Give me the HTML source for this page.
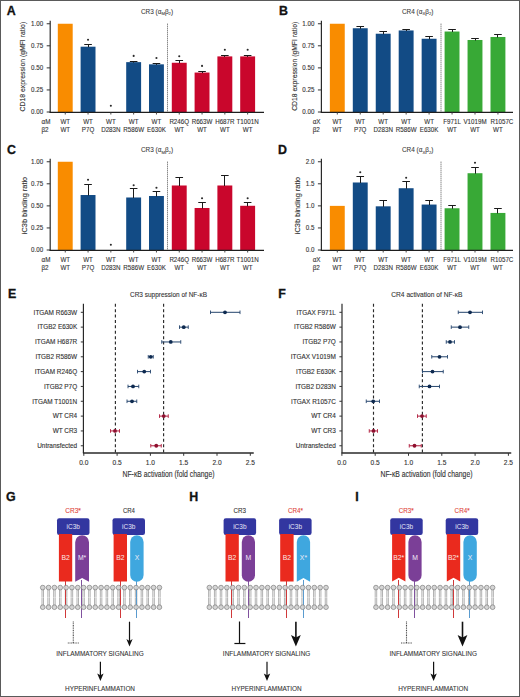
<!DOCTYPE html>
<html><head><meta charset="utf-8"><style>
html,body{margin:0;padding:0;background:#fff;}
#fig{position:relative;width:520px;height:697px;overflow:hidden;background:#fff;}
svg{display:block;font-family:"Liberation Sans", sans-serif;}
</style></head><body><div id="fig">
<svg width="520" height="697" viewBox="0 0 520 697">
<rect x="0" y="0" width="520" height="697" fill="#fff"/>
<rect x="57.80" y="23.75" width="14.90" height="88.25" fill="#F98C00"/>
<rect x="80.60" y="46.70" width="14.90" height="65.30" fill="#124B85"/>
<line x1="88.50" y1="44.93" x2="88.50" y2="47.20" stroke="#1a1a1a" stroke-width="1.0"/>
<line x1="84.25" y1="44.50" x2="91.85" y2="44.50" stroke="#1a1a1a" stroke-width="1.0"/>
<circle cx="88.05" cy="39.80" r="1.05" fill="#2a2a2a"/>
<circle cx="110.85" cy="105.80" r="1.05" fill="#2a2a2a"/>
<rect x="126.20" y="62.14" width="14.90" height="49.86" fill="#124B85"/>
<line x1="133.50" y1="61.26" x2="133.50" y2="62.64" stroke="#1a1a1a" stroke-width="1.0"/>
<line x1="129.85" y1="61.50" x2="137.45" y2="61.50" stroke="#1a1a1a" stroke-width="1.0"/>
<circle cx="133.65" cy="55.90" r="1.05" fill="#2a2a2a"/>
<rect x="149.00" y="64.34" width="14.90" height="47.66" fill="#124B85"/>
<line x1="156.50" y1="63.46" x2="156.50" y2="64.84" stroke="#1a1a1a" stroke-width="1.0"/>
<line x1="152.65" y1="63.50" x2="160.25" y2="63.50" stroke="#1a1a1a" stroke-width="1.0"/>
<circle cx="156.45" cy="58.00" r="1.05" fill="#2a2a2a"/>
<rect x="171.80" y="62.76" width="14.90" height="49.24" fill="#C9062C"/>
<line x1="179.50" y1="60.46" x2="179.50" y2="63.26" stroke="#1a1a1a" stroke-width="1.0"/>
<line x1="175.45" y1="60.50" x2="183.05" y2="60.50" stroke="#1a1a1a" stroke-width="1.0"/>
<circle cx="179.25" cy="56.20" r="1.05" fill="#2a2a2a"/>
<rect x="194.60" y="72.55" width="14.90" height="39.45" fill="#C9062C"/>
<line x1="202.50" y1="71.67" x2="202.50" y2="73.05" stroke="#1a1a1a" stroke-width="1.0"/>
<line x1="198.25" y1="71.50" x2="205.85" y2="71.50" stroke="#1a1a1a" stroke-width="1.0"/>
<circle cx="202.05" cy="65.90" r="1.05" fill="#2a2a2a"/>
<rect x="217.40" y="56.40" width="14.90" height="55.60" fill="#C9062C"/>
<line x1="224.50" y1="55.08" x2="224.50" y2="56.90" stroke="#1a1a1a" stroke-width="1.0"/>
<line x1="221.05" y1="55.50" x2="228.65" y2="55.50" stroke="#1a1a1a" stroke-width="1.0"/>
<circle cx="224.85" cy="49.80" r="1.05" fill="#2a2a2a"/>
<rect x="240.20" y="56.40" width="14.90" height="55.60" fill="#C9062C"/>
<line x1="247.50" y1="55.08" x2="247.50" y2="56.90" stroke="#1a1a1a" stroke-width="1.0"/>
<line x1="243.85" y1="55.50" x2="251.45" y2="55.50" stroke="#1a1a1a" stroke-width="1.0"/>
<circle cx="247.65" cy="49.80" r="1.05" fill="#2a2a2a"/>
<line x1="50.20" y1="20.70" x2="50.20" y2="112.90" stroke="#2a2a2a" stroke-width="1.2"/>
<line x1="49.60" y1="112.30" x2="264.00" y2="112.30" stroke="#1e1e1e" stroke-width="1.25"/>
<line x1="46.70" y1="112.00" x2="50.20" y2="112.00" stroke="#333333" stroke-width="1"/>
<text x="43.20" y="114.20" font-size="6.4" text-anchor="end" fill="#333333" font-weight="normal" textLength="12.08" lengthAdjust="spacingAndGlyphs" stroke="#333333" stroke-width="0.12">0.00</text>
<line x1="46.70" y1="89.94" x2="50.20" y2="89.94" stroke="#333333" stroke-width="1"/>
<text x="43.20" y="92.14" font-size="6.4" text-anchor="end" fill="#333333" font-weight="normal" textLength="12.08" lengthAdjust="spacingAndGlyphs" stroke="#333333" stroke-width="0.12">0.25</text>
<line x1="46.70" y1="67.88" x2="50.20" y2="67.88" stroke="#333333" stroke-width="1"/>
<text x="43.20" y="70.08" font-size="6.4" text-anchor="end" fill="#333333" font-weight="normal" textLength="12.08" lengthAdjust="spacingAndGlyphs" stroke="#333333" stroke-width="0.12">0.50</text>
<line x1="46.70" y1="45.81" x2="50.20" y2="45.81" stroke="#333333" stroke-width="1"/>
<text x="43.20" y="48.01" font-size="6.4" text-anchor="end" fill="#333333" font-weight="normal" textLength="12.08" lengthAdjust="spacingAndGlyphs" stroke="#333333" stroke-width="0.12">0.75</text>
<line x1="46.70" y1="23.75" x2="50.20" y2="23.75" stroke="#333333" stroke-width="1"/>
<text x="43.20" y="25.95" font-size="6.4" text-anchor="end" fill="#333333" font-weight="normal" textLength="12.08" lengthAdjust="spacingAndGlyphs" stroke="#333333" stroke-width="0.12">1.00</text>
<line x1="65.25" y1="112.00" x2="65.25" y2="114.50" stroke="#333333" stroke-width="0.9"/>
<line x1="88.05" y1="112.00" x2="88.05" y2="114.50" stroke="#333333" stroke-width="0.9"/>
<line x1="110.85" y1="112.00" x2="110.85" y2="114.50" stroke="#333333" stroke-width="0.9"/>
<line x1="133.65" y1="112.00" x2="133.65" y2="114.50" stroke="#333333" stroke-width="0.9"/>
<line x1="156.45" y1="112.00" x2="156.45" y2="114.50" stroke="#333333" stroke-width="0.9"/>
<line x1="179.25" y1="112.00" x2="179.25" y2="114.50" stroke="#333333" stroke-width="0.9"/>
<line x1="202.05" y1="112.00" x2="202.05" y2="114.50" stroke="#333333" stroke-width="0.9"/>
<line x1="224.85" y1="112.00" x2="224.85" y2="114.50" stroke="#333333" stroke-width="0.9"/>
<line x1="247.65" y1="112.00" x2="247.65" y2="114.50" stroke="#333333" stroke-width="0.9"/>
<line x1="167.50" y1="23.70" x2="167.50" y2="112.00" stroke="#555" stroke-width="1" stroke-dasharray="1 1"/>
<text x="41.50" y="123.75" font-size="7.4" text-anchor="start" fill="#333333" font-weight="normal" textLength="8.89" lengthAdjust="spacingAndGlyphs" stroke="#333333" stroke-width="0.12">αM</text>
<text x="41.50" y="131.95" font-size="7.4" text-anchor="start" fill="#333333" font-weight="normal" textLength="7.13" lengthAdjust="spacingAndGlyphs" stroke="#333333" stroke-width="0.12">β2</text>
<text x="65.25" y="123.75" font-size="7.4" text-anchor="middle" fill="#333333" font-weight="normal" textLength="9.69" lengthAdjust="spacingAndGlyphs" stroke="#333333" stroke-width="0.12">WT</text>
<text x="65.25" y="131.95" font-size="7.4" text-anchor="middle" fill="#333333" font-weight="normal" textLength="9.69" lengthAdjust="spacingAndGlyphs" stroke="#333333" stroke-width="0.12">WT</text>
<text x="88.05" y="123.75" font-size="7.4" text-anchor="middle" fill="#333333" font-weight="normal" textLength="9.69" lengthAdjust="spacingAndGlyphs" stroke="#333333" stroke-width="0.12">WT</text>
<text x="88.05" y="131.95" font-size="7.4" text-anchor="middle" fill="#333333" font-weight="normal" textLength="12.47" lengthAdjust="spacingAndGlyphs" stroke="#333333" stroke-width="0.12">P7Q</text>
<text x="110.85" y="123.75" font-size="7.4" text-anchor="middle" fill="#333333" font-weight="normal" textLength="9.69" lengthAdjust="spacingAndGlyphs" stroke="#333333" stroke-width="0.12">WT</text>
<text x="110.85" y="131.95" font-size="7.4" text-anchor="middle" fill="#333333" font-weight="normal" textLength="19.39" lengthAdjust="spacingAndGlyphs" stroke="#333333" stroke-width="0.12">D283N</text>
<text x="133.65" y="123.75" font-size="7.4" text-anchor="middle" fill="#333333" font-weight="normal" textLength="9.69" lengthAdjust="spacingAndGlyphs" stroke="#333333" stroke-width="0.12">WT</text>
<text x="133.65" y="131.95" font-size="7.4" text-anchor="middle" fill="#333333" font-weight="normal" textLength="20.77" lengthAdjust="spacingAndGlyphs" stroke="#333333" stroke-width="0.12">R586W</text>
<text x="156.45" y="123.75" font-size="7.4" text-anchor="middle" fill="#333333" font-weight="normal" textLength="9.69" lengthAdjust="spacingAndGlyphs" stroke="#333333" stroke-width="0.12">WT</text>
<text x="156.45" y="131.95" font-size="7.4" text-anchor="middle" fill="#333333" font-weight="normal" textLength="18.70" lengthAdjust="spacingAndGlyphs" stroke="#333333" stroke-width="0.12">E630K</text>
<text x="179.25" y="123.75" font-size="7.4" text-anchor="middle" fill="#333333" font-weight="normal" textLength="19.74" lengthAdjust="spacingAndGlyphs" stroke="#333333" stroke-width="0.12">R246Q</text>
<text x="179.25" y="131.95" font-size="7.4" text-anchor="middle" fill="#333333" font-weight="normal" textLength="9.69" lengthAdjust="spacingAndGlyphs" stroke="#333333" stroke-width="0.12">WT</text>
<text x="202.05" y="123.75" font-size="7.4" text-anchor="middle" fill="#333333" font-weight="normal" textLength="20.77" lengthAdjust="spacingAndGlyphs" stroke="#333333" stroke-width="0.12">R663W</text>
<text x="202.05" y="131.95" font-size="7.4" text-anchor="middle" fill="#333333" font-weight="normal" textLength="9.69" lengthAdjust="spacingAndGlyphs" stroke="#333333" stroke-width="0.12">WT</text>
<text x="224.85" y="123.75" font-size="7.4" text-anchor="middle" fill="#333333" font-weight="normal" textLength="19.39" lengthAdjust="spacingAndGlyphs" stroke="#333333" stroke-width="0.12">H687R</text>
<text x="224.85" y="131.95" font-size="7.4" text-anchor="middle" fill="#333333" font-weight="normal" textLength="9.69" lengthAdjust="spacingAndGlyphs" stroke="#333333" stroke-width="0.12">WT</text>
<text x="247.65" y="123.75" font-size="7.4" text-anchor="middle" fill="#333333" font-weight="normal" textLength="22.16" lengthAdjust="spacingAndGlyphs" stroke="#333333" stroke-width="0.12">T1001N</text>
<text x="247.65" y="131.95" font-size="7.4" text-anchor="middle" fill="#333333" font-weight="normal" textLength="9.69" lengthAdjust="spacingAndGlyphs" stroke="#333333" stroke-width="0.12">WT</text>
<text x="141.0" y="13.6" font-size="6.4" fill="#3a3a3a" stroke="#3a3a3a" stroke-width="0.08">CR3 (α<tspan font-size="4.2" dy="1.5">M</tspan><tspan dy="-1.5">β</tspan><tspan font-size="4.2" dy="1.5">2</tspan><tspan dy="-1.5">)</tspan></text>
<text transform="translate(25.10,66.60) rotate(-90)" x="0" y="0" font-size="7.5" text-anchor="middle" fill="#333333" stroke="#333333" stroke-width="0.12" textLength="89.6" lengthAdjust="spacingAndGlyphs">CD18 expression (gMFI ratio)</text>
<rect x="329.85" y="23.75" width="14.90" height="88.25" fill="#F98C00"/>
<rect x="352.80" y="28.25" width="14.90" height="83.75" fill="#124B85"/>
<line x1="360.50" y1="26.40" x2="360.50" y2="28.75" stroke="#1a1a1a" stroke-width="1.0"/>
<line x1="356.45" y1="26.50" x2="364.05" y2="26.50" stroke="#1a1a1a" stroke-width="1.0"/>
<rect x="375.75" y="33.72" width="14.90" height="78.28" fill="#124B85"/>
<line x1="383.50" y1="31.96" x2="383.50" y2="34.22" stroke="#1a1a1a" stroke-width="1.0"/>
<line x1="379.40" y1="31.50" x2="387.00" y2="31.50" stroke="#1a1a1a" stroke-width="1.0"/>
<rect x="398.70" y="30.46" width="14.90" height="81.54" fill="#124B85"/>
<line x1="406.50" y1="29.05" x2="406.50" y2="30.96" stroke="#1a1a1a" stroke-width="1.0"/>
<line x1="402.35" y1="29.50" x2="409.95" y2="29.50" stroke="#1a1a1a" stroke-width="1.0"/>
<rect x="421.65" y="38.75" width="14.90" height="73.25" fill="#124B85"/>
<line x1="429.50" y1="36.46" x2="429.50" y2="39.25" stroke="#1a1a1a" stroke-width="1.0"/>
<line x1="425.30" y1="36.50" x2="432.90" y2="36.50" stroke="#1a1a1a" stroke-width="1.0"/>
<rect x="444.60" y="31.52" width="14.90" height="80.48" fill="#38A936"/>
<line x1="452.50" y1="29.93" x2="452.50" y2="32.02" stroke="#1a1a1a" stroke-width="1.0"/>
<line x1="448.25" y1="29.50" x2="455.85" y2="29.50" stroke="#1a1a1a" stroke-width="1.0"/>
<rect x="467.55" y="39.99" width="14.90" height="72.01" fill="#38A936"/>
<line x1="475.50" y1="38.75" x2="475.50" y2="40.49" stroke="#1a1a1a" stroke-width="1.0"/>
<line x1="471.20" y1="38.50" x2="478.80" y2="38.50" stroke="#1a1a1a" stroke-width="1.0"/>
<rect x="490.50" y="36.99" width="14.90" height="75.01" fill="#38A936"/>
<line x1="497.50" y1="34.60" x2="497.50" y2="37.49" stroke="#1a1a1a" stroke-width="1.0"/>
<line x1="494.15" y1="34.50" x2="501.75" y2="34.50" stroke="#1a1a1a" stroke-width="1.0"/>
<line x1="321.40" y1="20.70" x2="321.40" y2="112.90" stroke="#2a2a2a" stroke-width="1.2"/>
<line x1="320.80" y1="112.30" x2="513.00" y2="112.30" stroke="#1e1e1e" stroke-width="1.25"/>
<line x1="317.90" y1="112.00" x2="321.40" y2="112.00" stroke="#333333" stroke-width="1"/>
<text x="314.40" y="114.20" font-size="6.4" text-anchor="end" fill="#333333" font-weight="normal" textLength="12.08" lengthAdjust="spacingAndGlyphs" stroke="#333333" stroke-width="0.12">0.00</text>
<line x1="317.90" y1="89.94" x2="321.40" y2="89.94" stroke="#333333" stroke-width="1"/>
<text x="314.40" y="92.14" font-size="6.4" text-anchor="end" fill="#333333" font-weight="normal" textLength="12.08" lengthAdjust="spacingAndGlyphs" stroke="#333333" stroke-width="0.12">0.25</text>
<line x1="317.90" y1="67.88" x2="321.40" y2="67.88" stroke="#333333" stroke-width="1"/>
<text x="314.40" y="70.08" font-size="6.4" text-anchor="end" fill="#333333" font-weight="normal" textLength="12.08" lengthAdjust="spacingAndGlyphs" stroke="#333333" stroke-width="0.12">0.50</text>
<line x1="317.90" y1="45.81" x2="321.40" y2="45.81" stroke="#333333" stroke-width="1"/>
<text x="314.40" y="48.01" font-size="6.4" text-anchor="end" fill="#333333" font-weight="normal" textLength="12.08" lengthAdjust="spacingAndGlyphs" stroke="#333333" stroke-width="0.12">0.75</text>
<line x1="317.90" y1="23.75" x2="321.40" y2="23.75" stroke="#333333" stroke-width="1"/>
<text x="314.40" y="25.95" font-size="6.4" text-anchor="end" fill="#333333" font-weight="normal" textLength="12.08" lengthAdjust="spacingAndGlyphs" stroke="#333333" stroke-width="0.12">1.00</text>
<line x1="337.30" y1="112.00" x2="337.30" y2="114.50" stroke="#333333" stroke-width="0.9"/>
<line x1="360.25" y1="112.00" x2="360.25" y2="114.50" stroke="#333333" stroke-width="0.9"/>
<line x1="383.20" y1="112.00" x2="383.20" y2="114.50" stroke="#333333" stroke-width="0.9"/>
<line x1="406.15" y1="112.00" x2="406.15" y2="114.50" stroke="#333333" stroke-width="0.9"/>
<line x1="429.10" y1="112.00" x2="429.10" y2="114.50" stroke="#333333" stroke-width="0.9"/>
<line x1="452.05" y1="112.00" x2="452.05" y2="114.50" stroke="#333333" stroke-width="0.9"/>
<line x1="475.00" y1="112.00" x2="475.00" y2="114.50" stroke="#333333" stroke-width="0.9"/>
<line x1="497.95" y1="112.00" x2="497.95" y2="114.50" stroke="#333333" stroke-width="0.9"/>
<line x1="441.00" y1="23.70" x2="441.00" y2="112.00" stroke="#555" stroke-width="1" stroke-dasharray="1 1"/>
<text x="312.70" y="123.75" font-size="7.4" text-anchor="start" fill="#333333" font-weight="normal" textLength="7.84" lengthAdjust="spacingAndGlyphs" stroke="#333333" stroke-width="0.12">αX</text>
<text x="312.70" y="131.95" font-size="7.4" text-anchor="start" fill="#333333" font-weight="normal" textLength="7.13" lengthAdjust="spacingAndGlyphs" stroke="#333333" stroke-width="0.12">β2</text>
<text x="337.30" y="123.75" font-size="7.4" text-anchor="middle" fill="#333333" font-weight="normal" textLength="9.69" lengthAdjust="spacingAndGlyphs" stroke="#333333" stroke-width="0.12">WT</text>
<text x="337.30" y="131.95" font-size="7.4" text-anchor="middle" fill="#333333" font-weight="normal" textLength="9.69" lengthAdjust="spacingAndGlyphs" stroke="#333333" stroke-width="0.12">WT</text>
<text x="360.25" y="123.75" font-size="7.4" text-anchor="middle" fill="#333333" font-weight="normal" textLength="9.69" lengthAdjust="spacingAndGlyphs" stroke="#333333" stroke-width="0.12">WT</text>
<text x="360.25" y="131.95" font-size="7.4" text-anchor="middle" fill="#333333" font-weight="normal" textLength="12.47" lengthAdjust="spacingAndGlyphs" stroke="#333333" stroke-width="0.12">P7Q</text>
<text x="383.20" y="123.75" font-size="7.4" text-anchor="middle" fill="#333333" font-weight="normal" textLength="9.69" lengthAdjust="spacingAndGlyphs" stroke="#333333" stroke-width="0.12">WT</text>
<text x="383.20" y="131.95" font-size="7.4" text-anchor="middle" fill="#333333" font-weight="normal" textLength="19.39" lengthAdjust="spacingAndGlyphs" stroke="#333333" stroke-width="0.12">D283N</text>
<text x="406.15" y="123.75" font-size="7.4" text-anchor="middle" fill="#333333" font-weight="normal" textLength="9.69" lengthAdjust="spacingAndGlyphs" stroke="#333333" stroke-width="0.12">WT</text>
<text x="406.15" y="131.95" font-size="7.4" text-anchor="middle" fill="#333333" font-weight="normal" textLength="20.77" lengthAdjust="spacingAndGlyphs" stroke="#333333" stroke-width="0.12">R586W</text>
<text x="429.10" y="123.75" font-size="7.4" text-anchor="middle" fill="#333333" font-weight="normal" textLength="9.69" lengthAdjust="spacingAndGlyphs" stroke="#333333" stroke-width="0.12">WT</text>
<text x="429.10" y="131.95" font-size="7.4" text-anchor="middle" fill="#333333" font-weight="normal" textLength="18.70" lengthAdjust="spacingAndGlyphs" stroke="#333333" stroke-width="0.12">E630K</text>
<text x="452.05" y="123.75" font-size="7.4" text-anchor="middle" fill="#333333" font-weight="normal" textLength="17.66" lengthAdjust="spacingAndGlyphs" stroke="#333333" stroke-width="0.12">F971L</text>
<text x="452.05" y="131.95" font-size="7.4" text-anchor="middle" fill="#333333" font-weight="normal" textLength="9.69" lengthAdjust="spacingAndGlyphs" stroke="#333333" stroke-width="0.12">WT</text>
<text x="475.00" y="123.75" font-size="7.4" text-anchor="middle" fill="#333333" font-weight="normal" textLength="23.20" lengthAdjust="spacingAndGlyphs" stroke="#333333" stroke-width="0.12">V1019M</text>
<text x="475.00" y="131.95" font-size="7.4" text-anchor="middle" fill="#333333" font-weight="normal" textLength="9.69" lengthAdjust="spacingAndGlyphs" stroke="#333333" stroke-width="0.12">WT</text>
<text x="501.95" y="123.75" font-size="7.4" text-anchor="middle" fill="#333333" font-weight="normal" textLength="22.86" lengthAdjust="spacingAndGlyphs" stroke="#333333" stroke-width="0.12">R1057C</text>
<text x="497.95" y="131.95" font-size="7.4" text-anchor="middle" fill="#333333" font-weight="normal" textLength="9.69" lengthAdjust="spacingAndGlyphs" stroke="#333333" stroke-width="0.12">WT</text>
<text x="402.0" y="13.6" font-size="6.4" fill="#3a3a3a" stroke="#3a3a3a" stroke-width="0.08">CR4 (α<tspan font-size="4.2" dy="1.5">X</tspan><tspan dy="-1.5">β</tspan><tspan font-size="4.2" dy="1.5">2</tspan><tspan dy="-1.5">)</tspan></text>
<text transform="translate(296.80,66.30) rotate(-90)" x="0" y="0" font-size="7.5" text-anchor="middle" fill="#333333" stroke="#333333" stroke-width="0.12" textLength="89.0" lengthAdjust="spacingAndGlyphs">CD18 expression (gMFI ratio)</text>
<rect x="57.80" y="161.75" width="14.90" height="88.25" fill="#F98C00"/>
<rect x="80.60" y="195.02" width="14.90" height="54.98" fill="#124B85"/>
<line x1="88.50" y1="184.52" x2="88.50" y2="195.52" stroke="#1a1a1a" stroke-width="1.0"/>
<line x1="84.25" y1="184.50" x2="91.85" y2="184.50" stroke="#1a1a1a" stroke-width="1.0"/>
<circle cx="88.05" cy="179.80" r="1.05" fill="#2a2a2a"/>
<circle cx="110.85" cy="244.80" r="1.05" fill="#2a2a2a"/>
<rect x="126.20" y="197.49" width="14.90" height="52.51" fill="#124B85"/>
<line x1="133.50" y1="188.22" x2="133.50" y2="197.99" stroke="#1a1a1a" stroke-width="1.0"/>
<line x1="129.85" y1="188.50" x2="137.45" y2="188.50" stroke="#1a1a1a" stroke-width="1.0"/>
<circle cx="133.65" cy="185.30" r="1.05" fill="#2a2a2a"/>
<rect x="149.00" y="195.99" width="14.90" height="54.01" fill="#124B85"/>
<line x1="156.50" y1="191.75" x2="156.50" y2="196.49" stroke="#1a1a1a" stroke-width="1.0"/>
<line x1="152.65" y1="191.50" x2="160.25" y2="191.50" stroke="#1a1a1a" stroke-width="1.0"/>
<circle cx="156.45" cy="187.80" r="1.05" fill="#2a2a2a"/>
<rect x="171.80" y="185.49" width="14.90" height="64.51" fill="#C9062C"/>
<line x1="179.50" y1="177.63" x2="179.50" y2="185.99" stroke="#1a1a1a" stroke-width="1.0"/>
<line x1="175.45" y1="177.50" x2="183.05" y2="177.50" stroke="#1a1a1a" stroke-width="1.0"/>
<rect x="194.60" y="207.99" width="14.90" height="42.01" fill="#C9062C"/>
<line x1="202.50" y1="202.52" x2="202.50" y2="208.49" stroke="#1a1a1a" stroke-width="1.0"/>
<line x1="198.25" y1="202.50" x2="205.85" y2="202.50" stroke="#1a1a1a" stroke-width="1.0"/>
<circle cx="202.05" cy="198.30" r="1.05" fill="#2a2a2a"/>
<rect x="217.40" y="185.49" width="14.90" height="64.51" fill="#C9062C"/>
<line x1="224.50" y1="175.25" x2="224.50" y2="185.99" stroke="#1a1a1a" stroke-width="1.0"/>
<line x1="221.05" y1="175.50" x2="228.65" y2="175.50" stroke="#1a1a1a" stroke-width="1.0"/>
<rect x="240.20" y="205.79" width="14.90" height="44.21" fill="#C9062C"/>
<line x1="247.50" y1="202.26" x2="247.50" y2="206.29" stroke="#1a1a1a" stroke-width="1.0"/>
<line x1="243.85" y1="202.50" x2="251.45" y2="202.50" stroke="#1a1a1a" stroke-width="1.0"/>
<circle cx="247.65" cy="198.30" r="1.05" fill="#2a2a2a"/>
<line x1="50.20" y1="158.70" x2="50.20" y2="250.90" stroke="#2a2a2a" stroke-width="1.2"/>
<line x1="49.60" y1="250.30" x2="264.00" y2="250.30" stroke="#1e1e1e" stroke-width="1.25"/>
<line x1="46.70" y1="250.00" x2="50.20" y2="250.00" stroke="#333333" stroke-width="1"/>
<text x="43.20" y="252.20" font-size="6.4" text-anchor="end" fill="#333333" font-weight="normal" textLength="12.08" lengthAdjust="spacingAndGlyphs" stroke="#333333" stroke-width="0.12">0.00</text>
<line x1="46.70" y1="227.94" x2="50.20" y2="227.94" stroke="#333333" stroke-width="1"/>
<text x="43.20" y="230.14" font-size="6.4" text-anchor="end" fill="#333333" font-weight="normal" textLength="12.08" lengthAdjust="spacingAndGlyphs" stroke="#333333" stroke-width="0.12">0.25</text>
<line x1="46.70" y1="205.88" x2="50.20" y2="205.88" stroke="#333333" stroke-width="1"/>
<text x="43.20" y="208.08" font-size="6.4" text-anchor="end" fill="#333333" font-weight="normal" textLength="12.08" lengthAdjust="spacingAndGlyphs" stroke="#333333" stroke-width="0.12">0.50</text>
<line x1="46.70" y1="183.81" x2="50.20" y2="183.81" stroke="#333333" stroke-width="1"/>
<text x="43.20" y="186.01" font-size="6.4" text-anchor="end" fill="#333333" font-weight="normal" textLength="12.08" lengthAdjust="spacingAndGlyphs" stroke="#333333" stroke-width="0.12">0.75</text>
<line x1="46.70" y1="161.75" x2="50.20" y2="161.75" stroke="#333333" stroke-width="1"/>
<text x="43.20" y="163.95" font-size="6.4" text-anchor="end" fill="#333333" font-weight="normal" textLength="12.08" lengthAdjust="spacingAndGlyphs" stroke="#333333" stroke-width="0.12">1.00</text>
<line x1="65.25" y1="250.00" x2="65.25" y2="252.50" stroke="#333333" stroke-width="0.9"/>
<line x1="88.05" y1="250.00" x2="88.05" y2="252.50" stroke="#333333" stroke-width="0.9"/>
<line x1="110.85" y1="250.00" x2="110.85" y2="252.50" stroke="#333333" stroke-width="0.9"/>
<line x1="133.65" y1="250.00" x2="133.65" y2="252.50" stroke="#333333" stroke-width="0.9"/>
<line x1="156.45" y1="250.00" x2="156.45" y2="252.50" stroke="#333333" stroke-width="0.9"/>
<line x1="179.25" y1="250.00" x2="179.25" y2="252.50" stroke="#333333" stroke-width="0.9"/>
<line x1="202.05" y1="250.00" x2="202.05" y2="252.50" stroke="#333333" stroke-width="0.9"/>
<line x1="224.85" y1="250.00" x2="224.85" y2="252.50" stroke="#333333" stroke-width="0.9"/>
<line x1="247.65" y1="250.00" x2="247.65" y2="252.50" stroke="#333333" stroke-width="0.9"/>
<line x1="167.50" y1="161.70" x2="167.50" y2="250.00" stroke="#555" stroke-width="1" stroke-dasharray="1 1"/>
<text x="41.50" y="261.75" font-size="7.4" text-anchor="start" fill="#333333" font-weight="normal" textLength="8.89" lengthAdjust="spacingAndGlyphs" stroke="#333333" stroke-width="0.12">αM</text>
<text x="41.50" y="269.95" font-size="7.4" text-anchor="start" fill="#333333" font-weight="normal" textLength="7.13" lengthAdjust="spacingAndGlyphs" stroke="#333333" stroke-width="0.12">β2</text>
<text x="65.25" y="261.75" font-size="7.4" text-anchor="middle" fill="#333333" font-weight="normal" textLength="9.69" lengthAdjust="spacingAndGlyphs" stroke="#333333" stroke-width="0.12">WT</text>
<text x="65.25" y="269.95" font-size="7.4" text-anchor="middle" fill="#333333" font-weight="normal" textLength="9.69" lengthAdjust="spacingAndGlyphs" stroke="#333333" stroke-width="0.12">WT</text>
<text x="88.05" y="261.75" font-size="7.4" text-anchor="middle" fill="#333333" font-weight="normal" textLength="9.69" lengthAdjust="spacingAndGlyphs" stroke="#333333" stroke-width="0.12">WT</text>
<text x="88.05" y="269.95" font-size="7.4" text-anchor="middle" fill="#333333" font-weight="normal" textLength="12.47" lengthAdjust="spacingAndGlyphs" stroke="#333333" stroke-width="0.12">P7Q</text>
<text x="110.85" y="261.75" font-size="7.4" text-anchor="middle" fill="#333333" font-weight="normal" textLength="9.69" lengthAdjust="spacingAndGlyphs" stroke="#333333" stroke-width="0.12">WT</text>
<text x="110.85" y="269.95" font-size="7.4" text-anchor="middle" fill="#333333" font-weight="normal" textLength="19.39" lengthAdjust="spacingAndGlyphs" stroke="#333333" stroke-width="0.12">D283N</text>
<text x="133.65" y="261.75" font-size="7.4" text-anchor="middle" fill="#333333" font-weight="normal" textLength="9.69" lengthAdjust="spacingAndGlyphs" stroke="#333333" stroke-width="0.12">WT</text>
<text x="133.65" y="269.95" font-size="7.4" text-anchor="middle" fill="#333333" font-weight="normal" textLength="20.77" lengthAdjust="spacingAndGlyphs" stroke="#333333" stroke-width="0.12">R586W</text>
<text x="156.45" y="261.75" font-size="7.4" text-anchor="middle" fill="#333333" font-weight="normal" textLength="9.69" lengthAdjust="spacingAndGlyphs" stroke="#333333" stroke-width="0.12">WT</text>
<text x="156.45" y="269.95" font-size="7.4" text-anchor="middle" fill="#333333" font-weight="normal" textLength="18.70" lengthAdjust="spacingAndGlyphs" stroke="#333333" stroke-width="0.12">E630K</text>
<text x="179.25" y="261.75" font-size="7.4" text-anchor="middle" fill="#333333" font-weight="normal" textLength="19.74" lengthAdjust="spacingAndGlyphs" stroke="#333333" stroke-width="0.12">R246Q</text>
<text x="179.25" y="269.95" font-size="7.4" text-anchor="middle" fill="#333333" font-weight="normal" textLength="9.69" lengthAdjust="spacingAndGlyphs" stroke="#333333" stroke-width="0.12">WT</text>
<text x="202.05" y="261.75" font-size="7.4" text-anchor="middle" fill="#333333" font-weight="normal" textLength="20.77" lengthAdjust="spacingAndGlyphs" stroke="#333333" stroke-width="0.12">R663W</text>
<text x="202.05" y="269.95" font-size="7.4" text-anchor="middle" fill="#333333" font-weight="normal" textLength="9.69" lengthAdjust="spacingAndGlyphs" stroke="#333333" stroke-width="0.12">WT</text>
<text x="224.85" y="261.75" font-size="7.4" text-anchor="middle" fill="#333333" font-weight="normal" textLength="19.39" lengthAdjust="spacingAndGlyphs" stroke="#333333" stroke-width="0.12">H687R</text>
<text x="224.85" y="269.95" font-size="7.4" text-anchor="middle" fill="#333333" font-weight="normal" textLength="9.69" lengthAdjust="spacingAndGlyphs" stroke="#333333" stroke-width="0.12">WT</text>
<text x="247.65" y="261.75" font-size="7.4" text-anchor="middle" fill="#333333" font-weight="normal" textLength="22.16" lengthAdjust="spacingAndGlyphs" stroke="#333333" stroke-width="0.12">T1001N</text>
<text x="247.65" y="269.95" font-size="7.4" text-anchor="middle" fill="#333333" font-weight="normal" textLength="9.69" lengthAdjust="spacingAndGlyphs" stroke="#333333" stroke-width="0.12">WT</text>
<text x="141.0" y="152.4" font-size="6.4" fill="#3a3a3a" stroke="#3a3a3a" stroke-width="0.08">CR3 (α<tspan font-size="4.2" dy="1.5">M</tspan><tspan dy="-1.5">β</tspan><tspan font-size="4.2" dy="1.5">2</tspan><tspan dy="-1.5">)</tspan></text>
<text transform="translate(26.70,205.50) rotate(-90)" x="0" y="0" font-size="7.5" text-anchor="middle" fill="#333333" stroke="#333333" stroke-width="0.12" textLength="57.3" lengthAdjust="spacingAndGlyphs">iC3b binding ratio</text>
<rect x="329.85" y="205.88" width="14.90" height="44.12" fill="#F98C00"/>
<rect x="352.80" y="182.49" width="14.90" height="67.51" fill="#124B85"/>
<line x1="360.50" y1="176.75" x2="360.50" y2="182.99" stroke="#1a1a1a" stroke-width="1.0"/>
<line x1="356.45" y1="176.50" x2="364.05" y2="176.50" stroke="#1a1a1a" stroke-width="1.0"/>
<circle cx="360.25" cy="172.30" r="1.05" fill="#2a2a2a"/>
<rect x="375.75" y="206.32" width="14.90" height="43.68" fill="#124B85"/>
<line x1="383.50" y1="200.58" x2="383.50" y2="206.82" stroke="#1a1a1a" stroke-width="1.0"/>
<line x1="379.40" y1="200.50" x2="387.00" y2="200.50" stroke="#1a1a1a" stroke-width="1.0"/>
<rect x="398.70" y="188.22" width="14.90" height="61.78" fill="#124B85"/>
<line x1="406.50" y1="181.16" x2="406.50" y2="188.72" stroke="#1a1a1a" stroke-width="1.0"/>
<line x1="402.35" y1="181.50" x2="409.95" y2="181.50" stroke="#1a1a1a" stroke-width="1.0"/>
<circle cx="406.15" cy="177.80" r="1.05" fill="#2a2a2a"/>
<rect x="421.65" y="204.55" width="14.90" height="45.45" fill="#124B85"/>
<line x1="429.50" y1="200.58" x2="429.50" y2="205.05" stroke="#1a1a1a" stroke-width="1.0"/>
<line x1="425.30" y1="200.50" x2="432.90" y2="200.50" stroke="#1a1a1a" stroke-width="1.0"/>
<rect x="444.60" y="208.26" width="14.90" height="41.74" fill="#38A936"/>
<line x1="452.50" y1="205.43" x2="452.50" y2="208.76" stroke="#1a1a1a" stroke-width="1.0"/>
<line x1="448.25" y1="205.50" x2="455.85" y2="205.50" stroke="#1a1a1a" stroke-width="1.0"/>
<rect x="467.55" y="173.22" width="14.90" height="76.78" fill="#38A936"/>
<line x1="475.50" y1="167.05" x2="475.50" y2="173.72" stroke="#1a1a1a" stroke-width="1.0"/>
<line x1="471.20" y1="167.50" x2="478.80" y2="167.50" stroke="#1a1a1a" stroke-width="1.0"/>
<circle cx="475.00" cy="162.80" r="1.05" fill="#2a2a2a"/>
<rect x="490.50" y="212.94" width="14.90" height="37.06" fill="#38A936"/>
<line x1="497.50" y1="208.74" x2="497.50" y2="213.44" stroke="#1a1a1a" stroke-width="1.0"/>
<line x1="494.15" y1="208.50" x2="501.75" y2="208.50" stroke="#1a1a1a" stroke-width="1.0"/>
<line x1="321.40" y1="158.70" x2="321.40" y2="250.90" stroke="#2a2a2a" stroke-width="1.2"/>
<line x1="320.80" y1="250.30" x2="513.00" y2="250.30" stroke="#1e1e1e" stroke-width="1.25"/>
<line x1="317.90" y1="250.00" x2="321.40" y2="250.00" stroke="#333333" stroke-width="1"/>
<text x="314.40" y="252.20" font-size="6.4" text-anchor="end" fill="#333333" font-weight="normal" textLength="8.63" lengthAdjust="spacingAndGlyphs" stroke="#333333" stroke-width="0.12">0.0</text>
<line x1="317.90" y1="227.94" x2="321.40" y2="227.94" stroke="#333333" stroke-width="1"/>
<text x="314.40" y="230.14" font-size="6.4" text-anchor="end" fill="#333333" font-weight="normal" textLength="8.63" lengthAdjust="spacingAndGlyphs" stroke="#333333" stroke-width="0.12">0.5</text>
<line x1="317.90" y1="205.88" x2="321.40" y2="205.88" stroke="#333333" stroke-width="1"/>
<text x="314.40" y="208.08" font-size="6.4" text-anchor="end" fill="#333333" font-weight="normal" textLength="8.63" lengthAdjust="spacingAndGlyphs" stroke="#333333" stroke-width="0.12">1.0</text>
<line x1="317.90" y1="183.81" x2="321.40" y2="183.81" stroke="#333333" stroke-width="1"/>
<text x="314.40" y="186.01" font-size="6.4" text-anchor="end" fill="#333333" font-weight="normal" textLength="8.63" lengthAdjust="spacingAndGlyphs" stroke="#333333" stroke-width="0.12">1.5</text>
<line x1="317.90" y1="161.75" x2="321.40" y2="161.75" stroke="#333333" stroke-width="1"/>
<text x="314.40" y="163.95" font-size="6.4" text-anchor="end" fill="#333333" font-weight="normal" textLength="8.63" lengthAdjust="spacingAndGlyphs" stroke="#333333" stroke-width="0.12">2.0</text>
<line x1="337.30" y1="250.00" x2="337.30" y2="252.50" stroke="#333333" stroke-width="0.9"/>
<line x1="360.25" y1="250.00" x2="360.25" y2="252.50" stroke="#333333" stroke-width="0.9"/>
<line x1="383.20" y1="250.00" x2="383.20" y2="252.50" stroke="#333333" stroke-width="0.9"/>
<line x1="406.15" y1="250.00" x2="406.15" y2="252.50" stroke="#333333" stroke-width="0.9"/>
<line x1="429.10" y1="250.00" x2="429.10" y2="252.50" stroke="#333333" stroke-width="0.9"/>
<line x1="452.05" y1="250.00" x2="452.05" y2="252.50" stroke="#333333" stroke-width="0.9"/>
<line x1="475.00" y1="250.00" x2="475.00" y2="252.50" stroke="#333333" stroke-width="0.9"/>
<line x1="497.95" y1="250.00" x2="497.95" y2="252.50" stroke="#333333" stroke-width="0.9"/>
<line x1="441.00" y1="161.70" x2="441.00" y2="250.00" stroke="#555" stroke-width="1" stroke-dasharray="1 1"/>
<text x="312.70" y="261.75" font-size="7.4" text-anchor="start" fill="#333333" font-weight="normal" textLength="7.84" lengthAdjust="spacingAndGlyphs" stroke="#333333" stroke-width="0.12">αX</text>
<text x="312.70" y="269.95" font-size="7.4" text-anchor="start" fill="#333333" font-weight="normal" textLength="7.13" lengthAdjust="spacingAndGlyphs" stroke="#333333" stroke-width="0.12">β2</text>
<text x="337.30" y="261.75" font-size="7.4" text-anchor="middle" fill="#333333" font-weight="normal" textLength="9.69" lengthAdjust="spacingAndGlyphs" stroke="#333333" stroke-width="0.12">WT</text>
<text x="337.30" y="269.95" font-size="7.4" text-anchor="middle" fill="#333333" font-weight="normal" textLength="9.69" lengthAdjust="spacingAndGlyphs" stroke="#333333" stroke-width="0.12">WT</text>
<text x="360.25" y="261.75" font-size="7.4" text-anchor="middle" fill="#333333" font-weight="normal" textLength="9.69" lengthAdjust="spacingAndGlyphs" stroke="#333333" stroke-width="0.12">WT</text>
<text x="360.25" y="269.95" font-size="7.4" text-anchor="middle" fill="#333333" font-weight="normal" textLength="12.47" lengthAdjust="spacingAndGlyphs" stroke="#333333" stroke-width="0.12">P7Q</text>
<text x="383.20" y="261.75" font-size="7.4" text-anchor="middle" fill="#333333" font-weight="normal" textLength="9.69" lengthAdjust="spacingAndGlyphs" stroke="#333333" stroke-width="0.12">WT</text>
<text x="383.20" y="269.95" font-size="7.4" text-anchor="middle" fill="#333333" font-weight="normal" textLength="19.39" lengthAdjust="spacingAndGlyphs" stroke="#333333" stroke-width="0.12">D283N</text>
<text x="406.15" y="261.75" font-size="7.4" text-anchor="middle" fill="#333333" font-weight="normal" textLength="9.69" lengthAdjust="spacingAndGlyphs" stroke="#333333" stroke-width="0.12">WT</text>
<text x="406.15" y="269.95" font-size="7.4" text-anchor="middle" fill="#333333" font-weight="normal" textLength="20.77" lengthAdjust="spacingAndGlyphs" stroke="#333333" stroke-width="0.12">R586W</text>
<text x="429.10" y="261.75" font-size="7.4" text-anchor="middle" fill="#333333" font-weight="normal" textLength="9.69" lengthAdjust="spacingAndGlyphs" stroke="#333333" stroke-width="0.12">WT</text>
<text x="429.10" y="269.95" font-size="7.4" text-anchor="middle" fill="#333333" font-weight="normal" textLength="18.70" lengthAdjust="spacingAndGlyphs" stroke="#333333" stroke-width="0.12">E630K</text>
<text x="452.05" y="261.75" font-size="7.4" text-anchor="middle" fill="#333333" font-weight="normal" textLength="17.66" lengthAdjust="spacingAndGlyphs" stroke="#333333" stroke-width="0.12">F971L</text>
<text x="452.05" y="269.95" font-size="7.4" text-anchor="middle" fill="#333333" font-weight="normal" textLength="9.69" lengthAdjust="spacingAndGlyphs" stroke="#333333" stroke-width="0.12">WT</text>
<text x="475.00" y="261.75" font-size="7.4" text-anchor="middle" fill="#333333" font-weight="normal" textLength="23.20" lengthAdjust="spacingAndGlyphs" stroke="#333333" stroke-width="0.12">V1019M</text>
<text x="475.00" y="269.95" font-size="7.4" text-anchor="middle" fill="#333333" font-weight="normal" textLength="9.69" lengthAdjust="spacingAndGlyphs" stroke="#333333" stroke-width="0.12">WT</text>
<text x="501.95" y="261.75" font-size="7.4" text-anchor="middle" fill="#333333" font-weight="normal" textLength="22.86" lengthAdjust="spacingAndGlyphs" stroke="#333333" stroke-width="0.12">R1057C</text>
<text x="497.95" y="269.95" font-size="7.4" text-anchor="middle" fill="#333333" font-weight="normal" textLength="9.69" lengthAdjust="spacingAndGlyphs" stroke="#333333" stroke-width="0.12">WT</text>
<text x="402.0" y="152.4" font-size="6.4" fill="#3a3a3a" stroke="#3a3a3a" stroke-width="0.08">CR4 (α<tspan font-size="4.2" dy="1.5">X</tspan><tspan dy="-1.5">β</tspan><tspan font-size="4.2" dy="1.5">2</tspan><tspan dy="-1.5">)</tspan></text>
<text transform="translate(300.30,205.50) rotate(-90)" x="0" y="0" font-size="7.5" text-anchor="middle" fill="#333333" stroke="#333333" stroke-width="0.12" textLength="57.3" lengthAdjust="spacingAndGlyphs">iC3b binding ratio</text>
<line x1="115.40" y1="303.75" x2="115.40" y2="452.50" stroke="#2a2a2a" stroke-width="1.15" stroke-dasharray="3 2.4"/>
<line x1="163.60" y1="303.75" x2="163.60" y2="452.50" stroke="#2a2a2a" stroke-width="1.15" stroke-dasharray="3 2.4"/>
<line x1="83.40" y1="303.75" x2="83.40" y2="453.00" stroke="#222" stroke-width="1.15"/>
<line x1="82.90" y1="453.00" x2="253.75" y2="453.00" stroke="#2a2a2a" stroke-width="1.4"/>
<line x1="83.80" y1="453.00" x2="83.80" y2="455.80" stroke="#333333" stroke-width="1"/>
<text x="83.80" y="464.57" font-size="6.6" text-anchor="middle" fill="#333333" font-weight="normal" stroke="#333333" stroke-width="0.12">0.0</text>
<line x1="117.10" y1="453.00" x2="117.10" y2="455.80" stroke="#333333" stroke-width="1"/>
<text x="117.10" y="464.57" font-size="6.6" text-anchor="middle" fill="#333333" font-weight="normal" stroke="#333333" stroke-width="0.12">0.5</text>
<line x1="150.40" y1="453.00" x2="150.40" y2="455.80" stroke="#333333" stroke-width="1"/>
<text x="150.40" y="464.57" font-size="6.6" text-anchor="middle" fill="#333333" font-weight="normal" stroke="#333333" stroke-width="0.12">1.0</text>
<line x1="183.70" y1="453.00" x2="183.70" y2="455.80" stroke="#333333" stroke-width="1"/>
<text x="183.70" y="464.57" font-size="6.6" text-anchor="middle" fill="#333333" font-weight="normal" stroke="#333333" stroke-width="0.12">1.5</text>
<line x1="217.00" y1="453.00" x2="217.00" y2="455.80" stroke="#333333" stroke-width="1"/>
<text x="217.00" y="464.57" font-size="6.6" text-anchor="middle" fill="#333333" font-weight="normal" stroke="#333333" stroke-width="0.12">2.0</text>
<line x1="250.30" y1="453.00" x2="250.30" y2="455.80" stroke="#333333" stroke-width="1"/>
<text x="250.30" y="464.57" font-size="6.6" text-anchor="middle" fill="#333333" font-weight="normal" stroke="#333333" stroke-width="0.12">2.5</text>
<line x1="80.80" y1="312.30" x2="83.40" y2="312.30" stroke="#333333" stroke-width="1"/>
<text x="77.20" y="314.60" font-size="6.7" text-anchor="end" fill="#333333" font-weight="normal" textLength="43.60" lengthAdjust="spacingAndGlyphs" stroke="#333333" stroke-width="0.12">ITGAM R663W</text>
<line x1="210.50" y1="312.30" x2="240.00" y2="312.30" stroke="#24446C" stroke-width="1"/>
<line x1="210.50" y1="310.50" x2="210.50" y2="314.10" stroke="#24446C" stroke-width="0.9"/>
<line x1="240.00" y1="310.50" x2="240.00" y2="314.10" stroke="#24446C" stroke-width="0.9"/>
<circle cx="225.00" cy="312.30" r="1.9" fill="#0E2A50"/>
<line x1="80.80" y1="327.13" x2="83.40" y2="327.13" stroke="#333333" stroke-width="1"/>
<text x="77.20" y="329.43" font-size="6.7" text-anchor="end" fill="#333333" font-weight="normal" textLength="39.68" lengthAdjust="spacingAndGlyphs" stroke="#333333" stroke-width="0.12">ITGB2 E630K</text>
<line x1="179.50" y1="327.13" x2="188.25" y2="327.13" stroke="#24446C" stroke-width="1"/>
<line x1="179.50" y1="325.33" x2="179.50" y2="328.93" stroke="#24446C" stroke-width="0.9"/>
<line x1="188.25" y1="325.33" x2="188.25" y2="328.93" stroke="#24446C" stroke-width="0.9"/>
<circle cx="183.75" cy="327.13" r="1.9" fill="#0E2A50"/>
<line x1="80.80" y1="341.96" x2="83.40" y2="341.96" stroke="#333333" stroke-width="1"/>
<text x="77.20" y="344.26" font-size="6.7" text-anchor="end" fill="#333333" font-weight="normal" textLength="42.17" lengthAdjust="spacingAndGlyphs" stroke="#333333" stroke-width="0.12">ITGAM H687R</text>
<line x1="161.75" y1="341.96" x2="180.75" y2="341.96" stroke="#24446C" stroke-width="1"/>
<line x1="161.75" y1="340.16" x2="161.75" y2="343.76" stroke="#24446C" stroke-width="0.9"/>
<line x1="180.75" y1="340.16" x2="180.75" y2="343.76" stroke="#24446C" stroke-width="0.9"/>
<circle cx="170.75" cy="341.96" r="1.9" fill="#0E2A50"/>
<line x1="80.80" y1="356.79" x2="83.40" y2="356.79" stroke="#333333" stroke-width="1"/>
<text x="77.20" y="359.09" font-size="6.7" text-anchor="end" fill="#333333" font-weight="normal" textLength="41.82" lengthAdjust="spacingAndGlyphs" stroke="#333333" stroke-width="0.12">ITGB2 R586W</text>
<line x1="148.25" y1="356.79" x2="153.25" y2="356.79" stroke="#24446C" stroke-width="1"/>
<line x1="148.25" y1="354.99" x2="148.25" y2="358.59" stroke="#24446C" stroke-width="0.9"/>
<line x1="153.25" y1="354.99" x2="153.25" y2="358.59" stroke="#24446C" stroke-width="0.9"/>
<circle cx="150.75" cy="356.79" r="1.9" fill="#0E2A50"/>
<line x1="80.80" y1="371.62" x2="83.40" y2="371.62" stroke="#333333" stroke-width="1"/>
<text x="77.20" y="373.92" font-size="6.7" text-anchor="end" fill="#333333" font-weight="normal" textLength="42.53" lengthAdjust="spacingAndGlyphs" stroke="#333333" stroke-width="0.12">ITGAM R246Q</text>
<line x1="137.50" y1="371.62" x2="150.50" y2="371.62" stroke="#24446C" stroke-width="1"/>
<line x1="137.50" y1="369.82" x2="137.50" y2="373.42" stroke="#24446C" stroke-width="0.9"/>
<line x1="150.50" y1="369.82" x2="150.50" y2="373.42" stroke="#24446C" stroke-width="0.9"/>
<circle cx="144.25" cy="371.62" r="1.9" fill="#0E2A50"/>
<line x1="80.80" y1="386.45" x2="83.40" y2="386.45" stroke="#333333" stroke-width="1"/>
<text x="77.20" y="388.75" font-size="6.7" text-anchor="end" fill="#333333" font-weight="normal" textLength="33.24" lengthAdjust="spacingAndGlyphs" stroke="#333333" stroke-width="0.12">ITGB2 P7Q</text>
<line x1="128.00" y1="386.45" x2="138.75" y2="386.45" stroke="#24446C" stroke-width="1"/>
<line x1="128.00" y1="384.65" x2="128.00" y2="388.25" stroke="#24446C" stroke-width="0.9"/>
<line x1="138.75" y1="384.65" x2="138.75" y2="388.25" stroke="#24446C" stroke-width="0.9"/>
<circle cx="133.00" cy="386.45" r="1.9" fill="#0E2A50"/>
<line x1="80.80" y1="401.28" x2="83.40" y2="401.28" stroke="#333333" stroke-width="1"/>
<text x="77.20" y="403.58" font-size="6.7" text-anchor="end" fill="#333333" font-weight="normal" textLength="44.92" lengthAdjust="spacingAndGlyphs" stroke="#333333" stroke-width="0.12">ITGAM T1001N</text>
<line x1="127.00" y1="401.28" x2="136.75" y2="401.28" stroke="#24446C" stroke-width="1"/>
<line x1="127.00" y1="399.48" x2="127.00" y2="403.08" stroke="#24446C" stroke-width="0.9"/>
<line x1="136.75" y1="399.48" x2="136.75" y2="403.08" stroke="#24446C" stroke-width="0.9"/>
<circle cx="132.00" cy="401.28" r="1.9" fill="#0E2A50"/>
<line x1="80.80" y1="416.11" x2="83.40" y2="416.11" stroke="#333333" stroke-width="1"/>
<text x="77.20" y="418.41" font-size="6.7" text-anchor="end" fill="#333333" font-weight="normal" textLength="24.54" lengthAdjust="spacingAndGlyphs" stroke="#333333" stroke-width="0.12">WT CR4</text>
<line x1="159.50" y1="416.11" x2="168.25" y2="416.11" stroke="#B01C3C" stroke-width="1"/>
<line x1="159.50" y1="414.31" x2="159.50" y2="417.91" stroke="#B01C3C" stroke-width="0.9"/>
<line x1="168.25" y1="414.31" x2="168.25" y2="417.91" stroke="#B01C3C" stroke-width="0.9"/>
<circle cx="163.75" cy="416.11" r="1.9" fill="#8E0F2E"/>
<line x1="80.80" y1="430.94" x2="83.40" y2="430.94" stroke="#333333" stroke-width="1"/>
<text x="77.20" y="433.24" font-size="6.7" text-anchor="end" fill="#333333" font-weight="normal" textLength="24.54" lengthAdjust="spacingAndGlyphs" stroke="#333333" stroke-width="0.12">WT CR3</text>
<line x1="110.50" y1="430.94" x2="119.50" y2="430.94" stroke="#B01C3C" stroke-width="1"/>
<line x1="110.50" y1="429.14" x2="110.50" y2="432.74" stroke="#B01C3C" stroke-width="0.9"/>
<line x1="119.50" y1="429.14" x2="119.50" y2="432.74" stroke="#B01C3C" stroke-width="0.9"/>
<circle cx="115.00" cy="430.94" r="1.9" fill="#8E0F2E"/>
<line x1="80.80" y1="445.77" x2="83.40" y2="445.77" stroke="#333333" stroke-width="1"/>
<text x="77.20" y="448.07" font-size="6.7" text-anchor="end" fill="#333333" font-weight="normal" textLength="40.04" lengthAdjust="spacingAndGlyphs" stroke="#333333" stroke-width="0.12">Untransfected</text>
<line x1="150.75" y1="445.77" x2="161.25" y2="445.77" stroke="#B01C3C" stroke-width="1"/>
<line x1="150.75" y1="443.97" x2="150.75" y2="447.57" stroke="#B01C3C" stroke-width="0.9"/>
<line x1="161.25" y1="443.97" x2="161.25" y2="447.57" stroke="#B01C3C" stroke-width="0.9"/>
<circle cx="156.25" cy="445.77" r="1.9" fill="#8E0F2E"/>
<text x="130.00" y="296.87" font-size="6.6" text-anchor="start" fill="#333333" font-weight="normal" textLength="77.00" lengthAdjust="spacingAndGlyphs" stroke="#333333" stroke-width="0.1">CR3 suppression of NF-κB</text>
<text x="122.50" y="476.62" font-size="8.2" text-anchor="start" fill="#333333" font-weight="normal" textLength="92.00" lengthAdjust="spacingAndGlyphs" stroke="#333333" stroke-width="0.12">NF-κB activation (fold change)</text>
<line x1="373.50" y1="303.75" x2="373.50" y2="452.50" stroke="#2a2a2a" stroke-width="1.15" stroke-dasharray="3 2.4"/>
<line x1="422.40" y1="303.75" x2="422.40" y2="452.50" stroke="#2a2a2a" stroke-width="1.15" stroke-dasharray="3 2.4"/>
<line x1="342.00" y1="303.75" x2="342.00" y2="453.00" stroke="#222" stroke-width="1.15"/>
<line x1="341.50" y1="453.00" x2="511.25" y2="453.00" stroke="#2a2a2a" stroke-width="1.4"/>
<line x1="341.90" y1="453.00" x2="341.90" y2="455.80" stroke="#333333" stroke-width="1"/>
<text x="341.90" y="464.57" font-size="6.6" text-anchor="middle" fill="#333333" font-weight="normal" stroke="#333333" stroke-width="0.12">0.0</text>
<line x1="375.20" y1="453.00" x2="375.20" y2="455.80" stroke="#333333" stroke-width="1"/>
<text x="375.20" y="464.57" font-size="6.6" text-anchor="middle" fill="#333333" font-weight="normal" stroke="#333333" stroke-width="0.12">0.5</text>
<line x1="408.50" y1="453.00" x2="408.50" y2="455.80" stroke="#333333" stroke-width="1"/>
<text x="408.50" y="464.57" font-size="6.6" text-anchor="middle" fill="#333333" font-weight="normal" stroke="#333333" stroke-width="0.12">1.0</text>
<line x1="441.80" y1="453.00" x2="441.80" y2="455.80" stroke="#333333" stroke-width="1"/>
<text x="441.80" y="464.57" font-size="6.6" text-anchor="middle" fill="#333333" font-weight="normal" stroke="#333333" stroke-width="0.12">1.5</text>
<line x1="475.10" y1="453.00" x2="475.10" y2="455.80" stroke="#333333" stroke-width="1"/>
<text x="475.10" y="464.57" font-size="6.6" text-anchor="middle" fill="#333333" font-weight="normal" stroke="#333333" stroke-width="0.12">2.0</text>
<line x1="508.40" y1="453.00" x2="508.40" y2="455.80" stroke="#333333" stroke-width="1"/>
<text x="508.40" y="464.57" font-size="6.6" text-anchor="middle" fill="#333333" font-weight="normal" stroke="#333333" stroke-width="0.12">2.5</text>
<line x1="339.40" y1="312.30" x2="342.00" y2="312.30" stroke="#333333" stroke-width="1"/>
<text x="335.80" y="314.60" font-size="6.7" text-anchor="end" fill="#333333" font-weight="normal" textLength="39.32" lengthAdjust="spacingAndGlyphs" stroke="#333333" stroke-width="0.12">ITGAX F971L</text>
<line x1="458.25" y1="312.30" x2="482.50" y2="312.30" stroke="#24446C" stroke-width="1"/>
<line x1="458.25" y1="310.50" x2="458.25" y2="314.10" stroke="#24446C" stroke-width="0.9"/>
<line x1="482.50" y1="310.50" x2="482.50" y2="314.10" stroke="#24446C" stroke-width="0.9"/>
<circle cx="470.00" cy="312.30" r="1.9" fill="#0E2A50"/>
<line x1="339.40" y1="327.13" x2="342.00" y2="327.13" stroke="#333333" stroke-width="1"/>
<text x="335.80" y="329.43" font-size="6.7" text-anchor="end" fill="#333333" font-weight="normal" textLength="41.82" lengthAdjust="spacingAndGlyphs" stroke="#333333" stroke-width="0.12">ITGB2 R586W</text>
<line x1="451.25" y1="327.13" x2="468.75" y2="327.13" stroke="#24446C" stroke-width="1"/>
<line x1="451.25" y1="325.33" x2="451.25" y2="328.93" stroke="#24446C" stroke-width="0.9"/>
<line x1="468.75" y1="325.33" x2="468.75" y2="328.93" stroke="#24446C" stroke-width="0.9"/>
<circle cx="460.00" cy="327.13" r="1.9" fill="#0E2A50"/>
<line x1="339.40" y1="341.96" x2="342.00" y2="341.96" stroke="#333333" stroke-width="1"/>
<text x="335.80" y="344.26" font-size="6.7" text-anchor="end" fill="#333333" font-weight="normal" textLength="33.24" lengthAdjust="spacingAndGlyphs" stroke="#333333" stroke-width="0.12">ITGB2 P7Q</text>
<line x1="446.25" y1="341.96" x2="454.50" y2="341.96" stroke="#24446C" stroke-width="1"/>
<line x1="446.25" y1="340.16" x2="446.25" y2="343.76" stroke="#24446C" stroke-width="0.9"/>
<line x1="454.50" y1="340.16" x2="454.50" y2="343.76" stroke="#24446C" stroke-width="0.9"/>
<circle cx="450.00" cy="341.96" r="1.9" fill="#0E2A50"/>
<line x1="339.40" y1="356.79" x2="342.00" y2="356.79" stroke="#333333" stroke-width="1"/>
<text x="335.80" y="359.09" font-size="6.7" text-anchor="end" fill="#333333" font-weight="normal" textLength="45.04" lengthAdjust="spacingAndGlyphs" stroke="#333333" stroke-width="0.12">ITGAX V1019M</text>
<line x1="431.75" y1="356.79" x2="447.50" y2="356.79" stroke="#24446C" stroke-width="1"/>
<line x1="431.75" y1="354.99" x2="431.75" y2="358.59" stroke="#24446C" stroke-width="0.9"/>
<line x1="447.50" y1="354.99" x2="447.50" y2="358.59" stroke="#24446C" stroke-width="0.9"/>
<circle cx="439.50" cy="356.79" r="1.9" fill="#0E2A50"/>
<line x1="339.40" y1="371.62" x2="342.00" y2="371.62" stroke="#333333" stroke-width="1"/>
<text x="335.80" y="373.92" font-size="6.7" text-anchor="end" fill="#333333" font-weight="normal" textLength="39.68" lengthAdjust="spacingAndGlyphs" stroke="#333333" stroke-width="0.12">ITGB2 E630K</text>
<line x1="422.50" y1="371.62" x2="443.25" y2="371.62" stroke="#24446C" stroke-width="1"/>
<line x1="422.50" y1="369.82" x2="422.50" y2="373.42" stroke="#24446C" stroke-width="0.9"/>
<line x1="443.25" y1="369.82" x2="443.25" y2="373.42" stroke="#24446C" stroke-width="0.9"/>
<circle cx="432.50" cy="371.62" r="1.9" fill="#0E2A50"/>
<line x1="339.40" y1="386.45" x2="342.00" y2="386.45" stroke="#333333" stroke-width="1"/>
<text x="335.80" y="388.75" font-size="6.7" text-anchor="end" fill="#333333" font-weight="normal" textLength="40.39" lengthAdjust="spacingAndGlyphs" stroke="#333333" stroke-width="0.12">ITGB2 D283N</text>
<line x1="419.25" y1="386.45" x2="439.50" y2="386.45" stroke="#24446C" stroke-width="1"/>
<line x1="419.25" y1="384.65" x2="419.25" y2="388.25" stroke="#24446C" stroke-width="0.9"/>
<line x1="439.50" y1="384.65" x2="439.50" y2="388.25" stroke="#24446C" stroke-width="0.9"/>
<circle cx="429.50" cy="386.45" r="1.9" fill="#0E2A50"/>
<line x1="339.40" y1="401.28" x2="342.00" y2="401.28" stroke="#333333" stroke-width="1"/>
<text x="335.80" y="403.58" font-size="6.7" text-anchor="end" fill="#333333" font-weight="normal" textLength="44.68" lengthAdjust="spacingAndGlyphs" stroke="#333333" stroke-width="0.12">ITGAX R1057C</text>
<line x1="366.25" y1="401.28" x2="379.50" y2="401.28" stroke="#24446C" stroke-width="1"/>
<line x1="366.25" y1="399.48" x2="366.25" y2="403.08" stroke="#24446C" stroke-width="0.9"/>
<line x1="379.50" y1="399.48" x2="379.50" y2="403.08" stroke="#24446C" stroke-width="0.9"/>
<circle cx="373.25" cy="401.28" r="1.9" fill="#0E2A50"/>
<line x1="339.40" y1="416.11" x2="342.00" y2="416.11" stroke="#333333" stroke-width="1"/>
<text x="335.80" y="418.41" font-size="6.7" text-anchor="end" fill="#333333" font-weight="normal" textLength="24.54" lengthAdjust="spacingAndGlyphs" stroke="#333333" stroke-width="0.12">WT CR4</text>
<line x1="417.50" y1="416.11" x2="426.25" y2="416.11" stroke="#B01C3C" stroke-width="1"/>
<line x1="417.50" y1="414.31" x2="417.50" y2="417.91" stroke="#B01C3C" stroke-width="0.9"/>
<line x1="426.25" y1="414.31" x2="426.25" y2="417.91" stroke="#B01C3C" stroke-width="0.9"/>
<circle cx="422.00" cy="416.11" r="1.9" fill="#8E0F2E"/>
<line x1="339.40" y1="430.94" x2="342.00" y2="430.94" stroke="#333333" stroke-width="1"/>
<text x="335.80" y="433.24" font-size="6.7" text-anchor="end" fill="#333333" font-weight="normal" textLength="24.54" lengthAdjust="spacingAndGlyphs" stroke="#333333" stroke-width="0.12">WT CR3</text>
<line x1="369.25" y1="430.94" x2="377.50" y2="430.94" stroke="#B01C3C" stroke-width="1"/>
<line x1="369.25" y1="429.14" x2="369.25" y2="432.74" stroke="#B01C3C" stroke-width="0.9"/>
<line x1="377.50" y1="429.14" x2="377.50" y2="432.74" stroke="#B01C3C" stroke-width="0.9"/>
<circle cx="373.50" cy="430.94" r="1.9" fill="#8E0F2E"/>
<line x1="339.40" y1="445.77" x2="342.00" y2="445.77" stroke="#333333" stroke-width="1"/>
<text x="335.80" y="448.07" font-size="6.7" text-anchor="end" fill="#333333" font-weight="normal" textLength="40.04" lengthAdjust="spacingAndGlyphs" stroke="#333333" stroke-width="0.12">Untransfected</text>
<line x1="409.25" y1="445.77" x2="421.25" y2="445.77" stroke="#B01C3C" stroke-width="1"/>
<line x1="409.25" y1="443.97" x2="409.25" y2="447.57" stroke="#B01C3C" stroke-width="0.9"/>
<line x1="421.25" y1="443.97" x2="421.25" y2="447.57" stroke="#B01C3C" stroke-width="0.9"/>
<circle cx="414.50" cy="445.77" r="1.9" fill="#8E0F2E"/>
<text x="391.25" y="296.87" font-size="6.6" text-anchor="start" fill="#333333" font-weight="normal" textLength="71.25" lengthAdjust="spacingAndGlyphs" stroke="#333333" stroke-width="0.1">CR4 activation of NF-κB</text>
<text x="380.50" y="476.62" font-size="8.2" text-anchor="start" fill="#333333" font-weight="normal" textLength="92.00" lengthAdjust="spacingAndGlyphs" stroke="#333333" stroke-width="0.12">NF-κB activation (fold change)</text>
<text x="73.10" y="512.91" font-size="7.0" text-anchor="middle" fill="#E0443A" font-weight="normal" textLength="15.60" lengthAdjust="spacingAndGlyphs" stroke="#E0443A" stroke-width="0.1">CR3*</text>
<text x="128.90" y="512.91" font-size="7.0" text-anchor="middle" fill="#333" font-weight="normal" textLength="12.00" lengthAdjust="spacingAndGlyphs" stroke="#333" stroke-width="0.1">CR4</text>
<rect x="57.00" y="518.20" width="32.50" height="16.80" rx="2.2" fill="#3236A0"/>
<text x="73.25" y="528.94" font-size="6.8" text-anchor="middle" fill="#e4e4f6" font-weight="normal" textLength="13.30" lengthAdjust="spacingAndGlyphs">iC3b</text>
<rect x="112.50" y="518.20" width="32.50" height="16.80" rx="2.2" fill="#3236A0"/>
<text x="128.75" y="528.94" font-size="6.8" text-anchor="middle" fill="#e4e4f6" font-weight="normal" textLength="13.30" lengthAdjust="spacingAndGlyphs">iC3b</text>
<line x1="42.00" y1="587.60" x2="42.00" y2="607.20" stroke="#8f8f8f" stroke-width="0.7"/><line x1="43.50" y1="587.60" x2="43.50" y2="607.20" stroke="#8f8f8f" stroke-width="0.7"/><line x1="47.83" y1="587.60" x2="47.83" y2="607.20" stroke="#8f8f8f" stroke-width="0.7"/><line x1="49.33" y1="587.60" x2="49.33" y2="607.20" stroke="#8f8f8f" stroke-width="0.7"/><line x1="53.67" y1="587.60" x2="53.67" y2="607.20" stroke="#8f8f8f" stroke-width="0.7"/><line x1="55.17" y1="587.60" x2="55.17" y2="607.20" stroke="#8f8f8f" stroke-width="0.7"/><line x1="59.50" y1="587.60" x2="59.50" y2="607.20" stroke="#8f8f8f" stroke-width="0.7"/><line x1="61.00" y1="587.60" x2="61.00" y2="607.20" stroke="#8f8f8f" stroke-width="0.7"/><line x1="65.33" y1="587.60" x2="65.33" y2="607.20" stroke="#8f8f8f" stroke-width="0.7"/><line x1="66.83" y1="587.60" x2="66.83" y2="607.20" stroke="#8f8f8f" stroke-width="0.7"/><line x1="71.16" y1="587.60" x2="71.16" y2="607.20" stroke="#8f8f8f" stroke-width="0.7"/><line x1="72.66" y1="587.60" x2="72.66" y2="607.20" stroke="#8f8f8f" stroke-width="0.7"/><line x1="77.00" y1="587.60" x2="77.00" y2="607.20" stroke="#8f8f8f" stroke-width="0.7"/><line x1="78.50" y1="587.60" x2="78.50" y2="607.20" stroke="#8f8f8f" stroke-width="0.7"/><line x1="82.83" y1="587.60" x2="82.83" y2="607.20" stroke="#8f8f8f" stroke-width="0.7"/><line x1="84.33" y1="587.60" x2="84.33" y2="607.20" stroke="#8f8f8f" stroke-width="0.7"/><line x1="88.66" y1="587.60" x2="88.66" y2="607.20" stroke="#8f8f8f" stroke-width="0.7"/><line x1="90.16" y1="587.60" x2="90.16" y2="607.20" stroke="#8f8f8f" stroke-width="0.7"/><line x1="94.50" y1="587.60" x2="94.50" y2="607.20" stroke="#8f8f8f" stroke-width="0.7"/><line x1="96.00" y1="587.60" x2="96.00" y2="607.20" stroke="#8f8f8f" stroke-width="0.7"/><line x1="100.33" y1="587.60" x2="100.33" y2="607.20" stroke="#8f8f8f" stroke-width="0.7"/><line x1="101.83" y1="587.60" x2="101.83" y2="607.20" stroke="#8f8f8f" stroke-width="0.7"/><line x1="106.16" y1="587.60" x2="106.16" y2="607.20" stroke="#8f8f8f" stroke-width="0.7"/><line x1="107.66" y1="587.60" x2="107.66" y2="607.20" stroke="#8f8f8f" stroke-width="0.7"/><line x1="112.00" y1="587.60" x2="112.00" y2="607.20" stroke="#8f8f8f" stroke-width="0.7"/><line x1="113.50" y1="587.60" x2="113.50" y2="607.20" stroke="#8f8f8f" stroke-width="0.7"/><line x1="117.83" y1="587.60" x2="117.83" y2="607.20" stroke="#8f8f8f" stroke-width="0.7"/><line x1="119.33" y1="587.60" x2="119.33" y2="607.20" stroke="#8f8f8f" stroke-width="0.7"/><line x1="123.66" y1="587.60" x2="123.66" y2="607.20" stroke="#8f8f8f" stroke-width="0.7"/><line x1="125.16" y1="587.60" x2="125.16" y2="607.20" stroke="#8f8f8f" stroke-width="0.7"/><line x1="129.50" y1="587.60" x2="129.50" y2="607.20" stroke="#8f8f8f" stroke-width="0.7"/><line x1="131.00" y1="587.60" x2="131.00" y2="607.20" stroke="#8f8f8f" stroke-width="0.7"/><line x1="135.33" y1="587.60" x2="135.33" y2="607.20" stroke="#8f8f8f" stroke-width="0.7"/><line x1="136.83" y1="587.60" x2="136.83" y2="607.20" stroke="#8f8f8f" stroke-width="0.7"/><line x1="141.16" y1="587.60" x2="141.16" y2="607.20" stroke="#8f8f8f" stroke-width="0.7"/><line x1="142.66" y1="587.60" x2="142.66" y2="607.20" stroke="#8f8f8f" stroke-width="0.7"/><line x1="146.99" y1="587.60" x2="146.99" y2="607.20" stroke="#8f8f8f" stroke-width="0.7"/><line x1="148.49" y1="587.60" x2="148.49" y2="607.20" stroke="#8f8f8f" stroke-width="0.7"/><line x1="152.83" y1="587.60" x2="152.83" y2="607.20" stroke="#8f8f8f" stroke-width="0.7"/><line x1="154.33" y1="587.60" x2="154.33" y2="607.20" stroke="#8f8f8f" stroke-width="0.7"/><line x1="158.66" y1="587.60" x2="158.66" y2="607.20" stroke="#8f8f8f" stroke-width="0.7"/><line x1="160.16" y1="587.60" x2="160.16" y2="607.20" stroke="#8f8f8f" stroke-width="0.7"/><line x1="39.75" y1="597.4" x2="162.41" y2="597.4" stroke="#fff" stroke-width="0.8" stroke-opacity="0.45"/>
<line x1="65.50" y1="580.00" x2="65.50" y2="618.00" stroke="#D0393A" stroke-width="1.0"/>
<line x1="81.50" y1="580.00" x2="81.50" y2="618.00" stroke="#80529E" stroke-width="1.0"/>
<line x1="120.50" y1="580.00" x2="120.50" y2="618.00" stroke="#D0393A" stroke-width="1.0"/>
<line x1="136.50" y1="580.00" x2="136.50" y2="618.00" stroke="#5A9BCF" stroke-width="1.0"/>
<circle cx="42.75" cy="587.60" r="2.35" fill="#d2d2d2" fill-opacity="0.9" stroke="#7c7c7c" stroke-width="0.7"/><circle cx="42.75" cy="607.20" r="2.35" fill="#d2d2d2" fill-opacity="0.9" stroke="#7c7c7c" stroke-width="0.7"/><circle cx="48.58" cy="587.60" r="2.35" fill="#d2d2d2" fill-opacity="0.9" stroke="#7c7c7c" stroke-width="0.7"/><circle cx="48.58" cy="607.20" r="2.35" fill="#d2d2d2" fill-opacity="0.9" stroke="#7c7c7c" stroke-width="0.7"/><circle cx="54.42" cy="587.60" r="2.35" fill="#d2d2d2" fill-opacity="0.9" stroke="#7c7c7c" stroke-width="0.7"/><circle cx="54.42" cy="607.20" r="2.35" fill="#d2d2d2" fill-opacity="0.9" stroke="#7c7c7c" stroke-width="0.7"/><circle cx="60.25" cy="587.60" r="2.35" fill="#d2d2d2" fill-opacity="0.9" stroke="#7c7c7c" stroke-width="0.7"/><circle cx="60.25" cy="607.20" r="2.35" fill="#d2d2d2" fill-opacity="0.9" stroke="#7c7c7c" stroke-width="0.7"/><circle cx="66.08" cy="587.60" r="2.35" fill="#d2d2d2" fill-opacity="0.9" stroke="#7c7c7c" stroke-width="0.7"/><circle cx="66.08" cy="607.20" r="2.35" fill="#d2d2d2" fill-opacity="0.9" stroke="#7c7c7c" stroke-width="0.7"/><circle cx="71.91" cy="587.60" r="2.35" fill="#d2d2d2" fill-opacity="0.9" stroke="#7c7c7c" stroke-width="0.7"/><circle cx="71.91" cy="607.20" r="2.35" fill="#d2d2d2" fill-opacity="0.9" stroke="#7c7c7c" stroke-width="0.7"/><circle cx="77.75" cy="587.60" r="2.35" fill="#d2d2d2" fill-opacity="0.9" stroke="#7c7c7c" stroke-width="0.7"/><circle cx="77.75" cy="607.20" r="2.35" fill="#d2d2d2" fill-opacity="0.9" stroke="#7c7c7c" stroke-width="0.7"/><circle cx="83.58" cy="587.60" r="2.35" fill="#d2d2d2" fill-opacity="0.9" stroke="#7c7c7c" stroke-width="0.7"/><circle cx="83.58" cy="607.20" r="2.35" fill="#d2d2d2" fill-opacity="0.9" stroke="#7c7c7c" stroke-width="0.7"/><circle cx="89.41" cy="587.60" r="2.35" fill="#d2d2d2" fill-opacity="0.9" stroke="#7c7c7c" stroke-width="0.7"/><circle cx="89.41" cy="607.20" r="2.35" fill="#d2d2d2" fill-opacity="0.9" stroke="#7c7c7c" stroke-width="0.7"/><circle cx="95.25" cy="587.60" r="2.35" fill="#d2d2d2" fill-opacity="0.9" stroke="#7c7c7c" stroke-width="0.7"/><circle cx="95.25" cy="607.20" r="2.35" fill="#d2d2d2" fill-opacity="0.9" stroke="#7c7c7c" stroke-width="0.7"/><circle cx="101.08" cy="587.60" r="2.35" fill="#d2d2d2" fill-opacity="0.9" stroke="#7c7c7c" stroke-width="0.7"/><circle cx="101.08" cy="607.20" r="2.35" fill="#d2d2d2" fill-opacity="0.9" stroke="#7c7c7c" stroke-width="0.7"/><circle cx="106.91" cy="587.60" r="2.35" fill="#d2d2d2" fill-opacity="0.9" stroke="#7c7c7c" stroke-width="0.7"/><circle cx="106.91" cy="607.20" r="2.35" fill="#d2d2d2" fill-opacity="0.9" stroke="#7c7c7c" stroke-width="0.7"/><circle cx="112.75" cy="587.60" r="2.35" fill="#d2d2d2" fill-opacity="0.9" stroke="#7c7c7c" stroke-width="0.7"/><circle cx="112.75" cy="607.20" r="2.35" fill="#d2d2d2" fill-opacity="0.9" stroke="#7c7c7c" stroke-width="0.7"/><circle cx="118.58" cy="587.60" r="2.35" fill="#d2d2d2" fill-opacity="0.9" stroke="#7c7c7c" stroke-width="0.7"/><circle cx="118.58" cy="607.20" r="2.35" fill="#d2d2d2" fill-opacity="0.9" stroke="#7c7c7c" stroke-width="0.7"/><circle cx="124.41" cy="587.60" r="2.35" fill="#d2d2d2" fill-opacity="0.9" stroke="#7c7c7c" stroke-width="0.7"/><circle cx="124.41" cy="607.20" r="2.35" fill="#d2d2d2" fill-opacity="0.9" stroke="#7c7c7c" stroke-width="0.7"/><circle cx="130.25" cy="587.60" r="2.35" fill="#d2d2d2" fill-opacity="0.9" stroke="#7c7c7c" stroke-width="0.7"/><circle cx="130.25" cy="607.20" r="2.35" fill="#d2d2d2" fill-opacity="0.9" stroke="#7c7c7c" stroke-width="0.7"/><circle cx="136.08" cy="587.60" r="2.35" fill="#d2d2d2" fill-opacity="0.9" stroke="#7c7c7c" stroke-width="0.7"/><circle cx="136.08" cy="607.20" r="2.35" fill="#d2d2d2" fill-opacity="0.9" stroke="#7c7c7c" stroke-width="0.7"/><circle cx="141.91" cy="587.60" r="2.35" fill="#d2d2d2" fill-opacity="0.9" stroke="#7c7c7c" stroke-width="0.7"/><circle cx="141.91" cy="607.20" r="2.35" fill="#d2d2d2" fill-opacity="0.9" stroke="#7c7c7c" stroke-width="0.7"/><circle cx="147.74" cy="587.60" r="2.35" fill="#d2d2d2" fill-opacity="0.9" stroke="#7c7c7c" stroke-width="0.7"/><circle cx="147.74" cy="607.20" r="2.35" fill="#d2d2d2" fill-opacity="0.9" stroke="#7c7c7c" stroke-width="0.7"/><circle cx="153.58" cy="587.60" r="2.35" fill="#d2d2d2" fill-opacity="0.9" stroke="#7c7c7c" stroke-width="0.7"/><circle cx="153.58" cy="607.20" r="2.35" fill="#d2d2d2" fill-opacity="0.9" stroke="#7c7c7c" stroke-width="0.7"/><circle cx="159.41" cy="587.60" r="2.35" fill="#d2d2d2" fill-opacity="0.9" stroke="#7c7c7c" stroke-width="0.7"/><circle cx="159.41" cy="607.20" r="2.35" fill="#d2d2d2" fill-opacity="0.9" stroke="#7c7c7c" stroke-width="0.7"/>
<rect x="58.90" y="534.00" width="13.30" height="47.50" fill="#EA2A1E"/>
<text x="65.55" y="560.34" font-size="6.8" text-anchor="middle" fill="#fbe9e6" font-weight="normal">B2</text>
<path d="M75.20,542.20 A6.90,6.90 0 0 1 89.00,542.20 V581.80 L82.10,578.00 L75.20,581.80 Z" fill="#7B3F97"/>
<text x="82.10" y="560.34" font-size="6.8" text-anchor="middle" fill="#f1ebf7" font-weight="normal">M*</text>
<rect x="113.60" y="534.00" width="13.40" height="47.50" fill="#EA2A1E"/>
<text x="120.30" y="560.34" font-size="6.8" text-anchor="middle" fill="#fbe9e6" font-weight="normal">B2</text>
<path d="M130.20,542.00 A6.70,6.70 0 0 1 143.60,542.00 V575.10 A6.70,6.70 0 0 1 130.20,575.10 Z" fill="#3FA7DF"/>
<text x="136.90" y="560.34" font-size="6.8" text-anchor="middle" fill="#f1ebf7" font-weight="normal">X</text>
<line x1="73.30" y1="621.50" x2="73.30" y2="643.00" stroke="#4d4d4d" stroke-width="1.1" stroke-dasharray="1 0.7"/>
<line x1="67.80" y1="643.00" x2="78.80" y2="643.00" stroke="#4d4d4d" stroke-width="1.1" stroke-dasharray="1 0.7"/>
<line x1="129.50" y1="621.70" x2="129.50" y2="641.40" stroke="#111" stroke-width="1.2"/>
<path d="M129.50,646.60 L126.40,638.90 L129.50,640.90 L132.60,638.90 Z" fill="#111"/>
<text x="100.00" y="655.57" font-size="6.6" text-anchor="middle" fill="#333" font-weight="normal" textLength="87.50" lengthAdjust="spacingAndGlyphs" stroke="#333" stroke-width="0.08">INFLAMMATORY SIGNALING</text>
<line x1="100.40" y1="661.70" x2="100.40" y2="675.80" stroke="#111" stroke-width="1.2"/>
<path d="M100.40,680.90 L97.20,673.50 L100.40,675.30 L103.60,673.50 Z" fill="#111"/>
<text x="100.00" y="690.57" font-size="6.6" text-anchor="middle" fill="#333" font-weight="normal" textLength="70.00" lengthAdjust="spacingAndGlyphs" stroke="#333" stroke-width="0.08">HYPERINFLAMMATION</text>
<text x="239.70" y="512.91" font-size="7.0" text-anchor="middle" fill="#333" font-weight="normal" textLength="12.50" lengthAdjust="spacingAndGlyphs" stroke="#333" stroke-width="0.1">CR3</text>
<text x="295.50" y="512.91" font-size="7.0" text-anchor="middle" fill="#E0443A" font-weight="normal" textLength="15.00" lengthAdjust="spacingAndGlyphs" stroke="#E0443A" stroke-width="0.1">CR4*</text>
<rect x="223.60" y="518.20" width="32.50" height="16.80" rx="2.2" fill="#3236A0"/>
<text x="239.85" y="528.94" font-size="6.8" text-anchor="middle" fill="#e4e4f6" font-weight="normal" textLength="13.30" lengthAdjust="spacingAndGlyphs">iC3b</text>
<rect x="279.10" y="518.20" width="32.50" height="16.80" rx="2.2" fill="#3236A0"/>
<text x="295.35" y="528.94" font-size="6.8" text-anchor="middle" fill="#e4e4f6" font-weight="normal" textLength="13.30" lengthAdjust="spacingAndGlyphs">iC3b</text>
<line x1="208.60" y1="587.60" x2="208.60" y2="607.20" stroke="#8f8f8f" stroke-width="0.7"/><line x1="210.10" y1="587.60" x2="210.10" y2="607.20" stroke="#8f8f8f" stroke-width="0.7"/><line x1="214.43" y1="587.60" x2="214.43" y2="607.20" stroke="#8f8f8f" stroke-width="0.7"/><line x1="215.93" y1="587.60" x2="215.93" y2="607.20" stroke="#8f8f8f" stroke-width="0.7"/><line x1="220.27" y1="587.60" x2="220.27" y2="607.20" stroke="#8f8f8f" stroke-width="0.7"/><line x1="221.77" y1="587.60" x2="221.77" y2="607.20" stroke="#8f8f8f" stroke-width="0.7"/><line x1="226.10" y1="587.60" x2="226.10" y2="607.20" stroke="#8f8f8f" stroke-width="0.7"/><line x1="227.60" y1="587.60" x2="227.60" y2="607.20" stroke="#8f8f8f" stroke-width="0.7"/><line x1="231.93" y1="587.60" x2="231.93" y2="607.20" stroke="#8f8f8f" stroke-width="0.7"/><line x1="233.43" y1="587.60" x2="233.43" y2="607.20" stroke="#8f8f8f" stroke-width="0.7"/><line x1="237.76" y1="587.60" x2="237.76" y2="607.20" stroke="#8f8f8f" stroke-width="0.7"/><line x1="239.26" y1="587.60" x2="239.26" y2="607.20" stroke="#8f8f8f" stroke-width="0.7"/><line x1="243.60" y1="587.60" x2="243.60" y2="607.20" stroke="#8f8f8f" stroke-width="0.7"/><line x1="245.10" y1="587.60" x2="245.10" y2="607.20" stroke="#8f8f8f" stroke-width="0.7"/><line x1="249.43" y1="587.60" x2="249.43" y2="607.20" stroke="#8f8f8f" stroke-width="0.7"/><line x1="250.93" y1="587.60" x2="250.93" y2="607.20" stroke="#8f8f8f" stroke-width="0.7"/><line x1="255.26" y1="587.60" x2="255.26" y2="607.20" stroke="#8f8f8f" stroke-width="0.7"/><line x1="256.76" y1="587.60" x2="256.76" y2="607.20" stroke="#8f8f8f" stroke-width="0.7"/><line x1="261.10" y1="587.60" x2="261.10" y2="607.20" stroke="#8f8f8f" stroke-width="0.7"/><line x1="262.60" y1="587.60" x2="262.60" y2="607.20" stroke="#8f8f8f" stroke-width="0.7"/><line x1="266.93" y1="587.60" x2="266.93" y2="607.20" stroke="#8f8f8f" stroke-width="0.7"/><line x1="268.43" y1="587.60" x2="268.43" y2="607.20" stroke="#8f8f8f" stroke-width="0.7"/><line x1="272.76" y1="587.60" x2="272.76" y2="607.20" stroke="#8f8f8f" stroke-width="0.7"/><line x1="274.26" y1="587.60" x2="274.26" y2="607.20" stroke="#8f8f8f" stroke-width="0.7"/><line x1="278.60" y1="587.60" x2="278.60" y2="607.20" stroke="#8f8f8f" stroke-width="0.7"/><line x1="280.10" y1="587.60" x2="280.10" y2="607.20" stroke="#8f8f8f" stroke-width="0.7"/><line x1="284.43" y1="587.60" x2="284.43" y2="607.20" stroke="#8f8f8f" stroke-width="0.7"/><line x1="285.93" y1="587.60" x2="285.93" y2="607.20" stroke="#8f8f8f" stroke-width="0.7"/><line x1="290.26" y1="587.60" x2="290.26" y2="607.20" stroke="#8f8f8f" stroke-width="0.7"/><line x1="291.76" y1="587.60" x2="291.76" y2="607.20" stroke="#8f8f8f" stroke-width="0.7"/><line x1="296.10" y1="587.60" x2="296.10" y2="607.20" stroke="#8f8f8f" stroke-width="0.7"/><line x1="297.60" y1="587.60" x2="297.60" y2="607.20" stroke="#8f8f8f" stroke-width="0.7"/><line x1="301.93" y1="587.60" x2="301.93" y2="607.20" stroke="#8f8f8f" stroke-width="0.7"/><line x1="303.43" y1="587.60" x2="303.43" y2="607.20" stroke="#8f8f8f" stroke-width="0.7"/><line x1="307.76" y1="587.60" x2="307.76" y2="607.20" stroke="#8f8f8f" stroke-width="0.7"/><line x1="309.26" y1="587.60" x2="309.26" y2="607.20" stroke="#8f8f8f" stroke-width="0.7"/><line x1="313.59" y1="587.60" x2="313.59" y2="607.20" stroke="#8f8f8f" stroke-width="0.7"/><line x1="315.09" y1="587.60" x2="315.09" y2="607.20" stroke="#8f8f8f" stroke-width="0.7"/><line x1="319.43" y1="587.60" x2="319.43" y2="607.20" stroke="#8f8f8f" stroke-width="0.7"/><line x1="320.93" y1="587.60" x2="320.93" y2="607.20" stroke="#8f8f8f" stroke-width="0.7"/><line x1="325.26" y1="587.60" x2="325.26" y2="607.20" stroke="#8f8f8f" stroke-width="0.7"/><line x1="326.76" y1="587.60" x2="326.76" y2="607.20" stroke="#8f8f8f" stroke-width="0.7"/><line x1="206.35" y1="597.4" x2="329.01" y2="597.4" stroke="#fff" stroke-width="0.8" stroke-opacity="0.45"/>
<line x1="231.50" y1="580.00" x2="231.50" y2="618.00" stroke="#D0393A" stroke-width="1.0"/>
<line x1="248.50" y1="580.00" x2="248.50" y2="618.00" stroke="#80529E" stroke-width="1.0"/>
<line x1="286.50" y1="580.00" x2="286.50" y2="618.00" stroke="#D0393A" stroke-width="1.0"/>
<line x1="303.50" y1="580.00" x2="303.50" y2="618.00" stroke="#5A9BCF" stroke-width="1.0"/>
<circle cx="209.35" cy="587.60" r="2.35" fill="#d2d2d2" fill-opacity="0.9" stroke="#7c7c7c" stroke-width="0.7"/><circle cx="209.35" cy="607.20" r="2.35" fill="#d2d2d2" fill-opacity="0.9" stroke="#7c7c7c" stroke-width="0.7"/><circle cx="215.18" cy="587.60" r="2.35" fill="#d2d2d2" fill-opacity="0.9" stroke="#7c7c7c" stroke-width="0.7"/><circle cx="215.18" cy="607.20" r="2.35" fill="#d2d2d2" fill-opacity="0.9" stroke="#7c7c7c" stroke-width="0.7"/><circle cx="221.02" cy="587.60" r="2.35" fill="#d2d2d2" fill-opacity="0.9" stroke="#7c7c7c" stroke-width="0.7"/><circle cx="221.02" cy="607.20" r="2.35" fill="#d2d2d2" fill-opacity="0.9" stroke="#7c7c7c" stroke-width="0.7"/><circle cx="226.85" cy="587.60" r="2.35" fill="#d2d2d2" fill-opacity="0.9" stroke="#7c7c7c" stroke-width="0.7"/><circle cx="226.85" cy="607.20" r="2.35" fill="#d2d2d2" fill-opacity="0.9" stroke="#7c7c7c" stroke-width="0.7"/><circle cx="232.68" cy="587.60" r="2.35" fill="#d2d2d2" fill-opacity="0.9" stroke="#7c7c7c" stroke-width="0.7"/><circle cx="232.68" cy="607.20" r="2.35" fill="#d2d2d2" fill-opacity="0.9" stroke="#7c7c7c" stroke-width="0.7"/><circle cx="238.51" cy="587.60" r="2.35" fill="#d2d2d2" fill-opacity="0.9" stroke="#7c7c7c" stroke-width="0.7"/><circle cx="238.51" cy="607.20" r="2.35" fill="#d2d2d2" fill-opacity="0.9" stroke="#7c7c7c" stroke-width="0.7"/><circle cx="244.35" cy="587.60" r="2.35" fill="#d2d2d2" fill-opacity="0.9" stroke="#7c7c7c" stroke-width="0.7"/><circle cx="244.35" cy="607.20" r="2.35" fill="#d2d2d2" fill-opacity="0.9" stroke="#7c7c7c" stroke-width="0.7"/><circle cx="250.18" cy="587.60" r="2.35" fill="#d2d2d2" fill-opacity="0.9" stroke="#7c7c7c" stroke-width="0.7"/><circle cx="250.18" cy="607.20" r="2.35" fill="#d2d2d2" fill-opacity="0.9" stroke="#7c7c7c" stroke-width="0.7"/><circle cx="256.01" cy="587.60" r="2.35" fill="#d2d2d2" fill-opacity="0.9" stroke="#7c7c7c" stroke-width="0.7"/><circle cx="256.01" cy="607.20" r="2.35" fill="#d2d2d2" fill-opacity="0.9" stroke="#7c7c7c" stroke-width="0.7"/><circle cx="261.85" cy="587.60" r="2.35" fill="#d2d2d2" fill-opacity="0.9" stroke="#7c7c7c" stroke-width="0.7"/><circle cx="261.85" cy="607.20" r="2.35" fill="#d2d2d2" fill-opacity="0.9" stroke="#7c7c7c" stroke-width="0.7"/><circle cx="267.68" cy="587.60" r="2.35" fill="#d2d2d2" fill-opacity="0.9" stroke="#7c7c7c" stroke-width="0.7"/><circle cx="267.68" cy="607.20" r="2.35" fill="#d2d2d2" fill-opacity="0.9" stroke="#7c7c7c" stroke-width="0.7"/><circle cx="273.51" cy="587.60" r="2.35" fill="#d2d2d2" fill-opacity="0.9" stroke="#7c7c7c" stroke-width="0.7"/><circle cx="273.51" cy="607.20" r="2.35" fill="#d2d2d2" fill-opacity="0.9" stroke="#7c7c7c" stroke-width="0.7"/><circle cx="279.35" cy="587.60" r="2.35" fill="#d2d2d2" fill-opacity="0.9" stroke="#7c7c7c" stroke-width="0.7"/><circle cx="279.35" cy="607.20" r="2.35" fill="#d2d2d2" fill-opacity="0.9" stroke="#7c7c7c" stroke-width="0.7"/><circle cx="285.18" cy="587.60" r="2.35" fill="#d2d2d2" fill-opacity="0.9" stroke="#7c7c7c" stroke-width="0.7"/><circle cx="285.18" cy="607.20" r="2.35" fill="#d2d2d2" fill-opacity="0.9" stroke="#7c7c7c" stroke-width="0.7"/><circle cx="291.01" cy="587.60" r="2.35" fill="#d2d2d2" fill-opacity="0.9" stroke="#7c7c7c" stroke-width="0.7"/><circle cx="291.01" cy="607.20" r="2.35" fill="#d2d2d2" fill-opacity="0.9" stroke="#7c7c7c" stroke-width="0.7"/><circle cx="296.85" cy="587.60" r="2.35" fill="#d2d2d2" fill-opacity="0.9" stroke="#7c7c7c" stroke-width="0.7"/><circle cx="296.85" cy="607.20" r="2.35" fill="#d2d2d2" fill-opacity="0.9" stroke="#7c7c7c" stroke-width="0.7"/><circle cx="302.68" cy="587.60" r="2.35" fill="#d2d2d2" fill-opacity="0.9" stroke="#7c7c7c" stroke-width="0.7"/><circle cx="302.68" cy="607.20" r="2.35" fill="#d2d2d2" fill-opacity="0.9" stroke="#7c7c7c" stroke-width="0.7"/><circle cx="308.51" cy="587.60" r="2.35" fill="#d2d2d2" fill-opacity="0.9" stroke="#7c7c7c" stroke-width="0.7"/><circle cx="308.51" cy="607.20" r="2.35" fill="#d2d2d2" fill-opacity="0.9" stroke="#7c7c7c" stroke-width="0.7"/><circle cx="314.34" cy="587.60" r="2.35" fill="#d2d2d2" fill-opacity="0.9" stroke="#7c7c7c" stroke-width="0.7"/><circle cx="314.34" cy="607.20" r="2.35" fill="#d2d2d2" fill-opacity="0.9" stroke="#7c7c7c" stroke-width="0.7"/><circle cx="320.18" cy="587.60" r="2.35" fill="#d2d2d2" fill-opacity="0.9" stroke="#7c7c7c" stroke-width="0.7"/><circle cx="320.18" cy="607.20" r="2.35" fill="#d2d2d2" fill-opacity="0.9" stroke="#7c7c7c" stroke-width="0.7"/><circle cx="326.01" cy="587.60" r="2.35" fill="#d2d2d2" fill-opacity="0.9" stroke="#7c7c7c" stroke-width="0.7"/><circle cx="326.01" cy="607.20" r="2.35" fill="#d2d2d2" fill-opacity="0.9" stroke="#7c7c7c" stroke-width="0.7"/>
<rect x="225.50" y="534.00" width="13.30" height="47.50" fill="#EA2A1E"/>
<text x="232.15" y="560.34" font-size="6.8" text-anchor="middle" fill="#fbe9e6" font-weight="normal">B2</text>
<path d="M241.80,541.90 A6.60,6.60 0 0 1 255.00,541.90 V575.20 A6.60,6.60 0 0 1 241.80,575.20 Z" fill="#7B3F97"/>
<text x="248.40" y="560.34" font-size="6.8" text-anchor="middle" fill="#f1ebf7" font-weight="normal">M</text>
<rect x="280.20" y="534.00" width="13.40" height="47.50" fill="#EA2A1E"/>
<text x="286.90" y="560.34" font-size="6.8" text-anchor="middle" fill="#fbe9e6" font-weight="normal">B2</text>
<path d="M296.80,541.95 A6.65,6.65 0 0 1 310.10,541.95 V581.80 L303.45,578.00 L296.80,581.80 Z" fill="#3FA7DF"/>
<text x="303.45" y="560.34" font-size="6.8" text-anchor="middle" fill="#f1ebf7" font-weight="normal">X*</text>
<line x1="239.50" y1="621.50" x2="239.50" y2="643.00" stroke="#111" stroke-width="1.2"/>
<line x1="234.40" y1="643.50" x2="245.40" y2="643.50" stroke="#111" stroke-width="1.2"/>
<line x1="295.90" y1="621.70" x2="295.90" y2="638.00" stroke="#111" stroke-width="1.6"/>
<path d="M295.90,646.60 L291.00,634.90 L295.90,637.50 L300.80,634.90 Z" fill="#111"/>
<text x="266.60" y="655.57" font-size="6.6" text-anchor="middle" fill="#333" font-weight="normal" textLength="87.50" lengthAdjust="spacingAndGlyphs" stroke="#333" stroke-width="0.08">INFLAMMATORY SIGNALING</text>
<line x1="267.00" y1="661.70" x2="267.00" y2="675.80" stroke="#111" stroke-width="1.2"/>
<path d="M267.00,680.90 L263.80,673.50 L267.00,675.30 L270.20,673.50 Z" fill="#111"/>
<text x="266.60" y="690.57" font-size="6.6" text-anchor="middle" fill="#333" font-weight="normal" textLength="70.00" lengthAdjust="spacingAndGlyphs" stroke="#333" stroke-width="0.08">HYPERINFLAMMATION</text>
<text x="406.30" y="512.91" font-size="7.0" text-anchor="middle" fill="#E0443A" font-weight="normal" textLength="15.00" lengthAdjust="spacingAndGlyphs" stroke="#E0443A" stroke-width="0.1">CR3*</text>
<text x="462.10" y="512.91" font-size="7.0" text-anchor="middle" fill="#E0443A" font-weight="normal" textLength="15.00" lengthAdjust="spacingAndGlyphs" stroke="#E0443A" stroke-width="0.1">CR4*</text>
<rect x="390.20" y="518.20" width="32.50" height="16.80" rx="2.2" fill="#3236A0"/>
<text x="406.45" y="528.94" font-size="6.8" text-anchor="middle" fill="#e4e4f6" font-weight="normal" textLength="13.30" lengthAdjust="spacingAndGlyphs">iC3b</text>
<rect x="445.70" y="518.20" width="32.50" height="16.80" rx="2.2" fill="#3236A0"/>
<text x="461.95" y="528.94" font-size="6.8" text-anchor="middle" fill="#e4e4f6" font-weight="normal" textLength="13.30" lengthAdjust="spacingAndGlyphs">iC3b</text>
<line x1="375.20" y1="587.60" x2="375.20" y2="607.20" stroke="#8f8f8f" stroke-width="0.7"/><line x1="376.70" y1="587.60" x2="376.70" y2="607.20" stroke="#8f8f8f" stroke-width="0.7"/><line x1="381.03" y1="587.60" x2="381.03" y2="607.20" stroke="#8f8f8f" stroke-width="0.7"/><line x1="382.53" y1="587.60" x2="382.53" y2="607.20" stroke="#8f8f8f" stroke-width="0.7"/><line x1="386.87" y1="587.60" x2="386.87" y2="607.20" stroke="#8f8f8f" stroke-width="0.7"/><line x1="388.37" y1="587.60" x2="388.37" y2="607.20" stroke="#8f8f8f" stroke-width="0.7"/><line x1="392.70" y1="587.60" x2="392.70" y2="607.20" stroke="#8f8f8f" stroke-width="0.7"/><line x1="394.20" y1="587.60" x2="394.20" y2="607.20" stroke="#8f8f8f" stroke-width="0.7"/><line x1="398.53" y1="587.60" x2="398.53" y2="607.20" stroke="#8f8f8f" stroke-width="0.7"/><line x1="400.03" y1="587.60" x2="400.03" y2="607.20" stroke="#8f8f8f" stroke-width="0.7"/><line x1="404.37" y1="587.60" x2="404.37" y2="607.20" stroke="#8f8f8f" stroke-width="0.7"/><line x1="405.87" y1="587.60" x2="405.87" y2="607.20" stroke="#8f8f8f" stroke-width="0.7"/><line x1="410.20" y1="587.60" x2="410.20" y2="607.20" stroke="#8f8f8f" stroke-width="0.7"/><line x1="411.70" y1="587.60" x2="411.70" y2="607.20" stroke="#8f8f8f" stroke-width="0.7"/><line x1="416.03" y1="587.60" x2="416.03" y2="607.20" stroke="#8f8f8f" stroke-width="0.7"/><line x1="417.53" y1="587.60" x2="417.53" y2="607.20" stroke="#8f8f8f" stroke-width="0.7"/><line x1="421.86" y1="587.60" x2="421.86" y2="607.20" stroke="#8f8f8f" stroke-width="0.7"/><line x1="423.36" y1="587.60" x2="423.36" y2="607.20" stroke="#8f8f8f" stroke-width="0.7"/><line x1="427.70" y1="587.60" x2="427.70" y2="607.20" stroke="#8f8f8f" stroke-width="0.7"/><line x1="429.20" y1="587.60" x2="429.20" y2="607.20" stroke="#8f8f8f" stroke-width="0.7"/><line x1="433.53" y1="587.60" x2="433.53" y2="607.20" stroke="#8f8f8f" stroke-width="0.7"/><line x1="435.03" y1="587.60" x2="435.03" y2="607.20" stroke="#8f8f8f" stroke-width="0.7"/><line x1="439.36" y1="587.60" x2="439.36" y2="607.20" stroke="#8f8f8f" stroke-width="0.7"/><line x1="440.86" y1="587.60" x2="440.86" y2="607.20" stroke="#8f8f8f" stroke-width="0.7"/><line x1="445.20" y1="587.60" x2="445.20" y2="607.20" stroke="#8f8f8f" stroke-width="0.7"/><line x1="446.70" y1="587.60" x2="446.70" y2="607.20" stroke="#8f8f8f" stroke-width="0.7"/><line x1="451.03" y1="587.60" x2="451.03" y2="607.20" stroke="#8f8f8f" stroke-width="0.7"/><line x1="452.53" y1="587.60" x2="452.53" y2="607.20" stroke="#8f8f8f" stroke-width="0.7"/><line x1="456.86" y1="587.60" x2="456.86" y2="607.20" stroke="#8f8f8f" stroke-width="0.7"/><line x1="458.36" y1="587.60" x2="458.36" y2="607.20" stroke="#8f8f8f" stroke-width="0.7"/><line x1="462.69" y1="587.60" x2="462.69" y2="607.20" stroke="#8f8f8f" stroke-width="0.7"/><line x1="464.19" y1="587.60" x2="464.19" y2="607.20" stroke="#8f8f8f" stroke-width="0.7"/><line x1="468.53" y1="587.60" x2="468.53" y2="607.20" stroke="#8f8f8f" stroke-width="0.7"/><line x1="470.03" y1="587.60" x2="470.03" y2="607.20" stroke="#8f8f8f" stroke-width="0.7"/><line x1="474.36" y1="587.60" x2="474.36" y2="607.20" stroke="#8f8f8f" stroke-width="0.7"/><line x1="475.86" y1="587.60" x2="475.86" y2="607.20" stroke="#8f8f8f" stroke-width="0.7"/><line x1="480.19" y1="587.60" x2="480.19" y2="607.20" stroke="#8f8f8f" stroke-width="0.7"/><line x1="481.69" y1="587.60" x2="481.69" y2="607.20" stroke="#8f8f8f" stroke-width="0.7"/><line x1="486.03" y1="587.60" x2="486.03" y2="607.20" stroke="#8f8f8f" stroke-width="0.7"/><line x1="487.53" y1="587.60" x2="487.53" y2="607.20" stroke="#8f8f8f" stroke-width="0.7"/><line x1="491.86" y1="587.60" x2="491.86" y2="607.20" stroke="#8f8f8f" stroke-width="0.7"/><line x1="493.36" y1="587.60" x2="493.36" y2="607.20" stroke="#8f8f8f" stroke-width="0.7"/><line x1="372.95" y1="597.4" x2="495.61" y2="597.4" stroke="#fff" stroke-width="0.8" stroke-opacity="0.45"/>
<line x1="398.50" y1="580.00" x2="398.50" y2="618.00" stroke="#D0393A" stroke-width="1.0"/>
<line x1="414.50" y1="580.00" x2="414.50" y2="618.00" stroke="#80529E" stroke-width="1.0"/>
<line x1="453.50" y1="580.00" x2="453.50" y2="618.00" stroke="#D0393A" stroke-width="1.0"/>
<line x1="469.50" y1="580.00" x2="469.50" y2="618.00" stroke="#5A9BCF" stroke-width="1.0"/>
<circle cx="375.95" cy="587.60" r="2.35" fill="#d2d2d2" fill-opacity="0.9" stroke="#7c7c7c" stroke-width="0.7"/><circle cx="375.95" cy="607.20" r="2.35" fill="#d2d2d2" fill-opacity="0.9" stroke="#7c7c7c" stroke-width="0.7"/><circle cx="381.78" cy="587.60" r="2.35" fill="#d2d2d2" fill-opacity="0.9" stroke="#7c7c7c" stroke-width="0.7"/><circle cx="381.78" cy="607.20" r="2.35" fill="#d2d2d2" fill-opacity="0.9" stroke="#7c7c7c" stroke-width="0.7"/><circle cx="387.62" cy="587.60" r="2.35" fill="#d2d2d2" fill-opacity="0.9" stroke="#7c7c7c" stroke-width="0.7"/><circle cx="387.62" cy="607.20" r="2.35" fill="#d2d2d2" fill-opacity="0.9" stroke="#7c7c7c" stroke-width="0.7"/><circle cx="393.45" cy="587.60" r="2.35" fill="#d2d2d2" fill-opacity="0.9" stroke="#7c7c7c" stroke-width="0.7"/><circle cx="393.45" cy="607.20" r="2.35" fill="#d2d2d2" fill-opacity="0.9" stroke="#7c7c7c" stroke-width="0.7"/><circle cx="399.28" cy="587.60" r="2.35" fill="#d2d2d2" fill-opacity="0.9" stroke="#7c7c7c" stroke-width="0.7"/><circle cx="399.28" cy="607.20" r="2.35" fill="#d2d2d2" fill-opacity="0.9" stroke="#7c7c7c" stroke-width="0.7"/><circle cx="405.12" cy="587.60" r="2.35" fill="#d2d2d2" fill-opacity="0.9" stroke="#7c7c7c" stroke-width="0.7"/><circle cx="405.12" cy="607.20" r="2.35" fill="#d2d2d2" fill-opacity="0.9" stroke="#7c7c7c" stroke-width="0.7"/><circle cx="410.95" cy="587.60" r="2.35" fill="#d2d2d2" fill-opacity="0.9" stroke="#7c7c7c" stroke-width="0.7"/><circle cx="410.95" cy="607.20" r="2.35" fill="#d2d2d2" fill-opacity="0.9" stroke="#7c7c7c" stroke-width="0.7"/><circle cx="416.78" cy="587.60" r="2.35" fill="#d2d2d2" fill-opacity="0.9" stroke="#7c7c7c" stroke-width="0.7"/><circle cx="416.78" cy="607.20" r="2.35" fill="#d2d2d2" fill-opacity="0.9" stroke="#7c7c7c" stroke-width="0.7"/><circle cx="422.61" cy="587.60" r="2.35" fill="#d2d2d2" fill-opacity="0.9" stroke="#7c7c7c" stroke-width="0.7"/><circle cx="422.61" cy="607.20" r="2.35" fill="#d2d2d2" fill-opacity="0.9" stroke="#7c7c7c" stroke-width="0.7"/><circle cx="428.45" cy="587.60" r="2.35" fill="#d2d2d2" fill-opacity="0.9" stroke="#7c7c7c" stroke-width="0.7"/><circle cx="428.45" cy="607.20" r="2.35" fill="#d2d2d2" fill-opacity="0.9" stroke="#7c7c7c" stroke-width="0.7"/><circle cx="434.28" cy="587.60" r="2.35" fill="#d2d2d2" fill-opacity="0.9" stroke="#7c7c7c" stroke-width="0.7"/><circle cx="434.28" cy="607.20" r="2.35" fill="#d2d2d2" fill-opacity="0.9" stroke="#7c7c7c" stroke-width="0.7"/><circle cx="440.11" cy="587.60" r="2.35" fill="#d2d2d2" fill-opacity="0.9" stroke="#7c7c7c" stroke-width="0.7"/><circle cx="440.11" cy="607.20" r="2.35" fill="#d2d2d2" fill-opacity="0.9" stroke="#7c7c7c" stroke-width="0.7"/><circle cx="445.95" cy="587.60" r="2.35" fill="#d2d2d2" fill-opacity="0.9" stroke="#7c7c7c" stroke-width="0.7"/><circle cx="445.95" cy="607.20" r="2.35" fill="#d2d2d2" fill-opacity="0.9" stroke="#7c7c7c" stroke-width="0.7"/><circle cx="451.78" cy="587.60" r="2.35" fill="#d2d2d2" fill-opacity="0.9" stroke="#7c7c7c" stroke-width="0.7"/><circle cx="451.78" cy="607.20" r="2.35" fill="#d2d2d2" fill-opacity="0.9" stroke="#7c7c7c" stroke-width="0.7"/><circle cx="457.61" cy="587.60" r="2.35" fill="#d2d2d2" fill-opacity="0.9" stroke="#7c7c7c" stroke-width="0.7"/><circle cx="457.61" cy="607.20" r="2.35" fill="#d2d2d2" fill-opacity="0.9" stroke="#7c7c7c" stroke-width="0.7"/><circle cx="463.44" cy="587.60" r="2.35" fill="#d2d2d2" fill-opacity="0.9" stroke="#7c7c7c" stroke-width="0.7"/><circle cx="463.44" cy="607.20" r="2.35" fill="#d2d2d2" fill-opacity="0.9" stroke="#7c7c7c" stroke-width="0.7"/><circle cx="469.28" cy="587.60" r="2.35" fill="#d2d2d2" fill-opacity="0.9" stroke="#7c7c7c" stroke-width="0.7"/><circle cx="469.28" cy="607.20" r="2.35" fill="#d2d2d2" fill-opacity="0.9" stroke="#7c7c7c" stroke-width="0.7"/><circle cx="475.11" cy="587.60" r="2.35" fill="#d2d2d2" fill-opacity="0.9" stroke="#7c7c7c" stroke-width="0.7"/><circle cx="475.11" cy="607.20" r="2.35" fill="#d2d2d2" fill-opacity="0.9" stroke="#7c7c7c" stroke-width="0.7"/><circle cx="480.94" cy="587.60" r="2.35" fill="#d2d2d2" fill-opacity="0.9" stroke="#7c7c7c" stroke-width="0.7"/><circle cx="480.94" cy="607.20" r="2.35" fill="#d2d2d2" fill-opacity="0.9" stroke="#7c7c7c" stroke-width="0.7"/><circle cx="486.78" cy="587.60" r="2.35" fill="#d2d2d2" fill-opacity="0.9" stroke="#7c7c7c" stroke-width="0.7"/><circle cx="486.78" cy="607.20" r="2.35" fill="#d2d2d2" fill-opacity="0.9" stroke="#7c7c7c" stroke-width="0.7"/><circle cx="492.61" cy="587.60" r="2.35" fill="#d2d2d2" fill-opacity="0.9" stroke="#7c7c7c" stroke-width="0.7"/><circle cx="492.61" cy="607.20" r="2.35" fill="#d2d2d2" fill-opacity="0.9" stroke="#7c7c7c" stroke-width="0.7"/>
<path d="M392.10,534.00 H405.40 V581.50 L398.75,577.70 L392.10,581.50 Z" fill="#EA2A1E"/>
<text x="398.75" y="560.34" font-size="6.8" text-anchor="middle" fill="#fbe9e6" font-weight="normal">B2*</text>
<path d="M408.40,541.90 A6.60,6.60 0 0 1 421.60,541.90 V575.20 A6.60,6.60 0 0 1 408.40,575.20 Z" fill="#7B3F97"/>
<text x="415.00" y="560.34" font-size="6.8" text-anchor="middle" fill="#f1ebf7" font-weight="normal">M</text>
<path d="M446.80,534.00 H460.20 V581.50 L453.50,577.70 L446.80,581.50 Z" fill="#EA2A1E"/>
<text x="453.50" y="560.34" font-size="6.8" text-anchor="middle" fill="#fbe9e6" font-weight="normal">B2*</text>
<path d="M463.40,542.00 A6.70,6.70 0 0 1 476.80,542.00 V575.10 A6.70,6.70 0 0 1 463.40,575.10 Z" fill="#3FA7DF"/>
<text x="470.10" y="560.34" font-size="6.8" text-anchor="middle" fill="#f1ebf7" font-weight="normal">X</text>
<line x1="406.50" y1="621.50" x2="406.50" y2="643.00" stroke="#4d4d4d" stroke-width="1.1" stroke-dasharray="1 0.7"/>
<line x1="401.00" y1="643.00" x2="412.00" y2="643.00" stroke="#4d4d4d" stroke-width="1.1" stroke-dasharray="1 0.7"/>
<line x1="462.50" y1="621.70" x2="462.50" y2="638.00" stroke="#111" stroke-width="1.6"/>
<path d="M462.50,646.60 L457.60,634.90 L462.50,637.50 L467.40,634.90 Z" fill="#111"/>
<text x="433.20" y="655.57" font-size="6.6" text-anchor="middle" fill="#333" font-weight="normal" textLength="87.50" lengthAdjust="spacingAndGlyphs" stroke="#333" stroke-width="0.08">INFLAMMATORY SIGNALING</text>
<line x1="433.60" y1="661.70" x2="433.60" y2="675.80" stroke="#111" stroke-width="1.2"/>
<path d="M433.60,680.90 L430.40,673.50 L433.60,675.30 L436.80,673.50 Z" fill="#111"/>
<text x="433.20" y="690.57" font-size="6.6" text-anchor="middle" fill="#333" font-weight="normal" textLength="70.00" lengthAdjust="spacingAndGlyphs" stroke="#333" stroke-width="0.08">HYPERINFLAMMATION</text>
<text x="6.69" y="15.33" font-size="12.4" font-weight="bold" fill="#111" stroke="#111" stroke-width="0.3">A</text>
<text x="279.07" y="15.33" font-size="12.4" font-weight="bold" fill="#111" stroke="#111" stroke-width="0.3">B</text>
<text x="7.09" y="153.76" font-size="12.4" font-weight="bold" fill="#111" stroke="#111" stroke-width="0.3">C</text>
<text x="277.97" y="153.63" font-size="12.4" font-weight="bold" fill="#111" stroke="#111" stroke-width="0.3">D</text>
<text x="7.97" y="297.63" font-size="12.4" font-weight="bold" fill="#111" stroke="#111" stroke-width="0.3">E</text>
<text x="278.17" y="297.63" font-size="12.4" font-weight="bold" fill="#111" stroke="#111" stroke-width="0.3">F</text>
<text x="5.89" y="501.36" font-size="12.4" font-weight="bold" fill="#111" stroke="#111" stroke-width="0.3">G</text>
<text x="189.37" y="501.43" font-size="12.4" font-weight="bold" fill="#111" stroke="#111" stroke-width="0.3">H</text>
<text x="355.27" y="501.43" font-size="12.4" font-weight="bold" fill="#111" stroke="#111" stroke-width="0.3">I</text>
<rect x="0.5" y="0.5" width="519" height="696" fill="none" stroke="#5a5a5a" stroke-width="1"/>
</svg></div></body></html>
